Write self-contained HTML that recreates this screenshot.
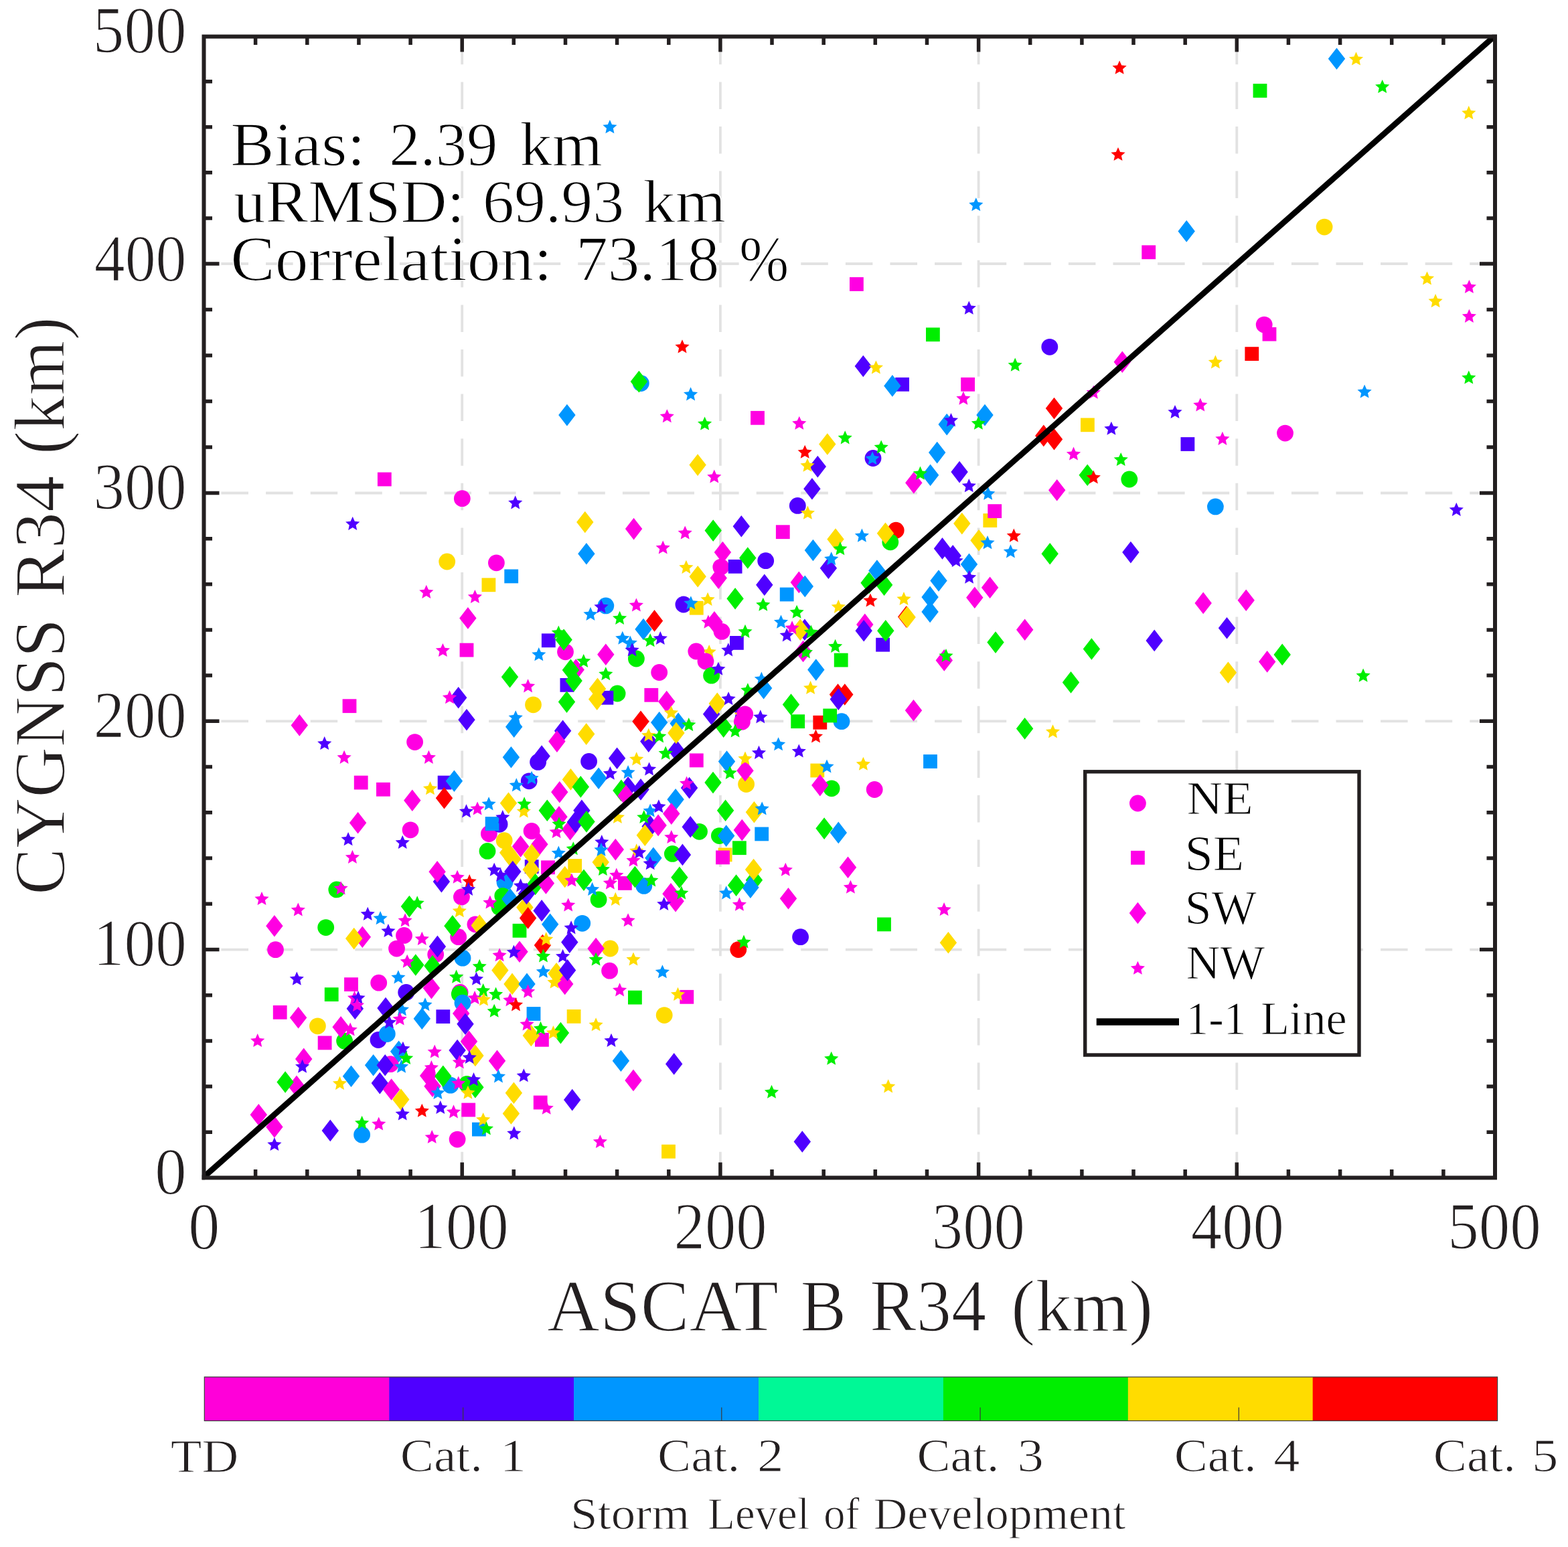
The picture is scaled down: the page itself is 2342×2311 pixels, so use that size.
<!DOCTYPE html>
<html lang="en"><head><meta charset="utf-8"><title>CYGNSS R34 vs ASCAT B R34</title>
<style>html,body{margin:0;padding:0;background:#fff}body{width:2342px;height:2311px;overflow:hidden}svg{display:block}text{font-family:"Liberation Serif",serif;stroke:#fff;stroke-width:1.5px;stroke-linejoin:round}</style>
</head><body>
<svg width="2342" height="2311" viewBox="0 0 2342 2311">
<rect width="2342" height="2311" fill="#fff"/>
<g stroke="#e2e2e2" stroke-width="3.8" fill="none" stroke-dasharray="40.5 26.1">
<path d="M330.5 1418.6H2233.0"/>
<path d="M690.2 55.8V1759.4"/>
<path d="M330.5 1077.3H2233.0"/>
<path d="M1075.9 55.8V1759.4"/>
<path d="M330.5 736.5H2233.0"/>
<path d="M1461.6 55.8V1759.4"/>
<path d="M330.5 394.0H2233.0"/>
<path d="M1847.3 55.8V1759.4"/>
</g>
<g><path d="M1059.2,963.0L1062.3,969.9L1069.8,970.7L1064.1,975.7L1065.7,983.1L1059.2,979.3L1052.7,983.1L1054.3,975.7L1048.6,970.7L1056.1,969.9Z" fill="#ffdc00"/>
<path d="M1103.9,1052.7L1107.0,1059.6L1114.5,1060.4L1108.8,1065.4L1110.4,1072.8L1103.9,1069.0L1097.4,1072.8L1099.0,1065.4L1093.3,1060.4L1100.8,1059.6Z" fill="#4f00ff"/>
<path d="M1107.0,1057.0L1110.1,1063.9L1117.6,1064.7L1111.9,1069.7L1113.5,1077.1L1107.0,1073.3L1100.5,1077.1L1102.1,1069.7L1096.4,1064.7L1103.9,1063.9Z" fill="#ffdc00"/>
<circle cx="1978.1" cy="339.1" r="12.4" fill="#ffdc00"/>
<circle cx="690.3" cy="744.7" r="12.4" fill="#ff00e2"/>
<circle cx="667.7" cy="839.0" r="12.4" fill="#ffdc00"/>
<circle cx="957.3" cy="572.6" r="12.4" fill="#0096ff"/>
<circle cx="741.4" cy="840.8" r="12.4" fill="#ff00e2"/>
<circle cx="1304.0" cy="684.5" r="12.4" fill="#4f00ff"/>
<circle cx="1191.3" cy="755.4" r="12.4" fill="#4f00ff"/>
<circle cx="1338.2" cy="792.2" r="12.4" fill="#ff0000"/>
<circle cx="1329.8" cy="809.8" r="12.4" fill="#00ee00"/>
<circle cx="1143.7" cy="837.7" r="12.4" fill="#4f00ff"/>
<circle cx="1567.8" cy="518.3" r="12.4" fill="#4f00ff"/>
<circle cx="1686.8" cy="716.0" r="12.4" fill="#00ee00"/>
<circle cx="1815.4" cy="756.9" r="12.4" fill="#0096ff"/>
<circle cx="1888.2" cy="485.1" r="12.4" fill="#ff00e2"/>
<circle cx="1919.5" cy="647.1" r="12.4" fill="#ff00e2"/>
<circle cx="619.6" cy="1108.6" r="12.4" fill="#ff00e2"/>
<circle cx="613.1" cy="1239.8" r="12.4" fill="#ff00e2"/>
<circle cx="904.8" cy="904.9" r="12.4" fill="#0096ff"/>
<circle cx="844.5" cy="973.8" r="12.4" fill="#ff00e2"/>
<circle cx="950.4" cy="984.0" r="12.4" fill="#00ee00"/>
<circle cx="796.5" cy="1052.8" r="12.4" fill="#ffdc00"/>
<circle cx="922.1" cy="1036.0" r="12.4" fill="#00ee00"/>
<circle cx="984.7" cy="1004.5" r="12.4" fill="#ff00e2"/>
<circle cx="879.6" cy="1137.5" r="12.4" fill="#4f00ff"/>
<circle cx="1076.8" cy="847.1" r="12.4" fill="#ff00e2"/>
<circle cx="1020.9" cy="903.0" r="12.4" fill="#4f00ff"/>
<circle cx="1078.1" cy="943.4" r="12.4" fill="#ff00e2"/>
<circle cx="1039.8" cy="973.0" r="12.4" fill="#ff00e2"/>
<circle cx="1054.0" cy="988.0" r="12.4" fill="#ff00e2"/>
<circle cx="1062.6" cy="1009.2" r="12.4" fill="#00ee00"/>
<circle cx="1112.7" cy="1066.8" r="12.4" fill="#ff00e2"/>
<circle cx="1108.4" cy="1078.3" r="12.4" fill="#ff00e2"/>
<circle cx="1257.0" cy="1077.7" r="12.4" fill="#0096ff"/>
<circle cx="803.6" cy="1138.4" r="12.4" fill="#4f00ff"/>
<circle cx="790.2" cy="1166.8" r="12.4" fill="#4f00ff"/>
<circle cx="730.4" cy="1245.5" r="12.4" fill="#ff00e2"/>
<circle cx="746.1" cy="1231.3" r="12.4" fill="#4f00ff"/>
<circle cx="794.1" cy="1241.5" r="12.4" fill="#ff00e2"/>
<circle cx="728.0" cy="1271.4" r="12.4" fill="#00ee00"/>
<circle cx="753.2" cy="1255.7" r="12.4" fill="#ffdc00"/>
<circle cx="754.0" cy="1317.9" r="12.4" fill="#0096ff"/>
<circle cx="689.4" cy="1339.9" r="12.4" fill="#ff00e2"/>
<circle cx="961.8" cy="1323.4" r="12.4" fill="#0096ff"/>
<circle cx="750.8" cy="1338.3" r="12.4" fill="#00ee00"/>
<circle cx="746.1" cy="1355.6" r="12.4" fill="#00ee00"/>
<circle cx="894.1" cy="1343.8" r="12.4" fill="#00ee00"/>
<circle cx="869.7" cy="1379.3" r="12.4" fill="#0096ff"/>
<circle cx="709.9" cy="1380.8" r="12.4" fill="#ff00e2"/>
<circle cx="684.7" cy="1399.7" r="12.4" fill="#ff00e2"/>
<circle cx="911.4" cy="1417.0" r="12.4" fill="#ffdc00"/>
<circle cx="691.0" cy="1431.2" r="12.4" fill="#0096ff"/>
<circle cx="1114.6" cy="1171.5" r="12.4" fill="#ffdc00"/>
<circle cx="1242.1" cy="1177.8" r="12.4" fill="#00ee00"/>
<circle cx="1044.5" cy="1242.3" r="12.4" fill="#00ee00"/>
<circle cx="1074.4" cy="1248.6" r="12.4" fill="#00ee00"/>
<circle cx="1004.4" cy="1275.4" r="12.4" fill="#00ee00"/>
<circle cx="1195.6" cy="1399.7" r="12.4" fill="#4f00ff"/>
<circle cx="1102.8" cy="1418.6" r="12.4" fill="#ff0000"/>
<circle cx="1306.2" cy="1179.5" r="12.4" fill="#ff00e2"/>
<circle cx="910.6" cy="1450.2" r="12.4" fill="#ff00e2"/>
<circle cx="687.1" cy="1482.5" r="12.4" fill="#ff00e2"/>
<circle cx="686.3" cy="1484.9" r="12.4" fill="#00ee00"/>
<circle cx="691.0" cy="1498.2" r="12.4" fill="#0096ff"/>
<circle cx="697.3" cy="1619.4" r="12.4" fill="#00ee00"/>
<circle cx="683.1" cy="1702.1" r="12.4" fill="#ff00e2"/>
<circle cx="992.2" cy="1516.6" r="12.4" fill="#ffdc00"/>
<circle cx="502.8" cy="1328.9" r="12.4" fill="#00ee00"/>
<circle cx="486.7" cy="1385.6" r="12.4" fill="#00ee00"/>
<circle cx="411.5" cy="1418.7" r="12.4" fill="#ff00e2"/>
<circle cx="603.5" cy="1397.4" r="12.4" fill="#ff00e2"/>
<circle cx="592.5" cy="1417.1" r="12.4" fill="#ff00e2"/>
<circle cx="650.7" cy="1425.7" r="12.4" fill="#ff00e2"/>
<circle cx="565.7" cy="1468.2" r="12.4" fill="#ff00e2"/>
<circle cx="606.7" cy="1482.4" r="12.4" fill="#4f00ff"/>
<circle cx="474.4" cy="1532.8" r="12.4" fill="#ffdc00"/>
<circle cx="514.6" cy="1555.1" r="12.4" fill="#00ee00"/>
<circle cx="565.0" cy="1553.5" r="12.4" fill="#4f00ff"/>
<circle cx="578.3" cy="1544.5" r="12.4" fill="#0096ff"/>
<circle cx="583.1" cy="1589.7" r="12.4" fill="#ff00e2"/>
<circle cx="672.8" cy="1621.2" r="12.4" fill="#0096ff"/>
<circle cx="540.6" cy="1695.2" r="12.4" fill="#0096ff"/>
<rect x="1269.0" y="414.1" width="20.8" height="20.8" fill="#ff00e2"/>
<rect x="1871.6" y="125.1" width="20.8" height="20.8" fill="#00ee00"/>
<rect x="1705.3" y="366.4" width="20.8" height="20.8" fill="#ff00e2"/>
<rect x="563.9" y="705.6" width="20.8" height="20.8" fill="#ff00e2"/>
<rect x="1383.0" y="489.4" width="20.8" height="20.8" fill="#00ee00"/>
<rect x="1337.2" y="563.9" width="20.8" height="20.8" fill="#4f00ff"/>
<rect x="1435.2" y="563.9" width="20.8" height="20.8" fill="#ff00e2"/>
<rect x="1121.1" y="613.9" width="20.8" height="20.8" fill="#ff00e2"/>
<rect x="1468.4" y="767.1" width="20.8" height="20.8" fill="#ffdc00"/>
<rect x="1475.3" y="753.2" width="20.8" height="20.8" fill="#ff00e2"/>
<rect x="1158.9" y="784.3" width="20.8" height="20.8" fill="#ff00e2"/>
<rect x="1614.0" y="624.4" width="20.8" height="20.8" fill="#ffdc00"/>
<rect x="1763.5" y="653.1" width="20.8" height="20.8" fill="#4f00ff"/>
<rect x="1859.4" y="518.2" width="20.8" height="20.8" fill="#ff0000"/>
<rect x="1885.6" y="488.8" width="20.8" height="20.8" fill="#ff00e2"/>
<rect x="686.6" y="960.7" width="20.8" height="20.8" fill="#ff00e2"/>
<rect x="511.6" y="1044.3" width="20.8" height="20.8" fill="#ff00e2"/>
<rect x="528.8" y="1158.7" width="20.8" height="20.8" fill="#ff00e2"/>
<rect x="562.0" y="1168.9" width="20.8" height="20.8" fill="#ff00e2"/>
<rect x="653.7" y="1158.7" width="20.8" height="20.8" fill="#4f00ff"/>
<rect x="753.3" y="850.5" width="20.8" height="20.8" fill="#0096ff"/>
<rect x="719.5" y="863.4" width="20.8" height="20.8" fill="#ffdc00"/>
<rect x="808.9" y="946.4" width="20.8" height="20.8" fill="#4f00ff"/>
<rect x="836.5" y="1013.0" width="20.8" height="20.8" fill="#4f00ff"/>
<rect x="895.5" y="1031.9" width="20.8" height="20.8" fill="#4f00ff"/>
<rect x="962.4" y="1027.9" width="20.8" height="20.8" fill="#ff00e2"/>
<rect x="1087.7" y="835.9" width="20.8" height="20.8" fill="#4f00ff"/>
<rect x="1164.8" y="877.6" width="20.8" height="20.8" fill="#0096ff"/>
<rect x="1029.9" y="897.8" width="20.8" height="20.8" fill="#ffdc00"/>
<rect x="1090.0" y="950.0" width="20.8" height="20.8" fill="#4f00ff"/>
<rect x="1245.8" y="975.7" width="20.8" height="20.8" fill="#00ee00"/>
<rect x="1181.3" y="1067.3" width="20.8" height="20.8" fill="#00ee00"/>
<rect x="1214.4" y="1068.9" width="20.8" height="20.8" fill="#ff0000"/>
<rect x="1229.3" y="1058.6" width="20.8" height="20.8" fill="#00ee00"/>
<rect x="1029.9" y="1125.5" width="20.8" height="20.8" fill="#ff00e2"/>
<rect x="1308.2" y="952.8" width="20.8" height="20.8" fill="#4f00ff"/>
<rect x="1379.1" y="1127.1" width="20.8" height="20.8" fill="#0096ff"/>
<rect x="724.7" y="1220.1" width="20.8" height="20.8" fill="#0096ff"/>
<rect x="808.1" y="1285.4" width="20.8" height="20.8" fill="#ff00e2"/>
<rect x="923.0" y="1309.0" width="20.8" height="20.8" fill="#ff00e2"/>
<rect x="765.6" y="1379.9" width="20.8" height="20.8" fill="#00ee00"/>
<rect x="1210.4" y="1140.6" width="20.8" height="20.8" fill="#ffdc00"/>
<rect x="1127.3" y="1235.5" width="20.8" height="20.8" fill="#0096ff"/>
<rect x="1094.0" y="1256.3" width="20.8" height="20.8" fill="#00ee00"/>
<rect x="1072.7" y="1266.5" width="20.8" height="20.8" fill="#ffdc00"/>
<rect x="1069.1" y="1270.5" width="20.8" height="20.8" fill="#ff00e2"/>
<rect x="1310.1" y="1370.5" width="20.8" height="20.8" fill="#00ee00"/>
<rect x="938.0" y="1479.7" width="20.8" height="20.8" fill="#00ee00"/>
<rect x="786.6" y="1504.1" width="20.8" height="20.8" fill="#0096ff"/>
<rect x="846.7" y="1508.0" width="20.8" height="20.8" fill="#ffdc00"/>
<rect x="799.0" y="1542.9" width="20.8" height="20.8" fill="#ff00e2"/>
<rect x="796.8" y="1636.6" width="20.8" height="20.8" fill="#ff00e2"/>
<rect x="689.3" y="1647.6" width="20.8" height="20.8" fill="#ff00e2"/>
<rect x="705.0" y="1676.7" width="20.8" height="20.8" fill="#0096ff"/>
<rect x="1015.4" y="1478.9" width="20.8" height="20.8" fill="#ff00e2"/>
<rect x="988.1" y="1709.8" width="20.8" height="20.8" fill="#ffdc00"/>
<rect x="514.1" y="1460.2" width="20.8" height="20.8" fill="#ff00e2"/>
<rect x="484.8" y="1475.2" width="20.8" height="20.8" fill="#00ee00"/>
<rect x="651.4" y="1508.2" width="20.8" height="20.8" fill="#4f00ff"/>
<rect x="407.8" y="1501.9" width="20.8" height="20.8" fill="#ff00e2"/>
<rect x="474.7" y="1547.5" width="20.8" height="20.8" fill="#ff00e2"/>
<rect x="783.8" y="1284.2" width="20.8" height="20.8" fill="#4f00ff"/>
<rect x="848.3" y="1283.1" width="20.8" height="20.8" fill="#ffdc00"/>
<path d="M1772.2 329.1l12.7 16.3l-12.7 16.3l-12.7 -16.3z" fill="#0096ff"/>
<path d="M1996.5 71.5l12.7 16.3l-12.7 16.3l-12.7 -16.3z" fill="#0096ff"/>
<path d="M954.4 553.8l12.7 16.3l-12.7 16.3l-12.7 -16.3z" fill="#00ee00"/>
<path d="M846.9 603.8l12.7 16.3l-12.7 16.3l-12.7 -16.3z" fill="#0096ff"/>
<path d="M1042.1 678.3l12.7 16.3l-12.7 16.3l-12.7 -16.3z" fill="#ffdc00"/>
<path d="M873.8 763.7l12.7 16.3l-12.7 16.3l-12.7 -16.3z" fill="#ffdc00"/>
<path d="M946.6 773.8l12.7 16.3l-12.7 16.3l-12.7 -16.3z" fill="#ff00e2"/>
<path d="M1065.2 776.3l12.7 16.3l-12.7 16.3l-12.7 -16.3z" fill="#00ee00"/>
<path d="M875.9 810.9l12.7 16.3l-12.7 16.3l-12.7 -16.3z" fill="#0096ff"/>
<path d="M1079.4 808.8l12.7 16.3l-12.7 16.3l-12.7 -16.3z" fill="#ff00e2"/>
<path d="M1289.3 530.7l12.7 16.3l-12.7 16.3l-12.7 -16.3z" fill="#4f00ff"/>
<path d="M1332.9 560.1l12.7 16.3l-12.7 16.3l-12.7 -16.3z" fill="#0096ff"/>
<path d="M1471.0 603.8l12.7 16.3l-12.7 16.3l-12.7 -16.3z" fill="#0096ff"/>
<path d="M1414.2 617.8l12.7 16.3l-12.7 16.3l-12.7 -16.3z" fill="#0096ff"/>
<path d="M1235.8 647.2l12.7 16.3l-12.7 16.3l-12.7 -16.3z" fill="#ffdc00"/>
<path d="M1221.3 680.8l12.7 16.3l-12.7 16.3l-12.7 -16.3z" fill="#4f00ff"/>
<path d="M1212.9 713.9l12.7 16.3l-12.7 16.3l-12.7 -16.3z" fill="#4f00ff"/>
<path d="M1399.7 659.8l12.7 16.3l-12.7 16.3l-12.7 -16.3z" fill="#0096ff"/>
<path d="M1433.1 688.8l12.7 16.3l-12.7 16.3l-12.7 -16.3z" fill="#4f00ff"/>
<path d="M1364.8 704.9l12.7 16.3l-12.7 16.3l-12.7 -16.3z" fill="#ff00e2"/>
<path d="M1389.6 693.4l12.7 16.3l-12.7 16.3l-12.7 -16.3z" fill="#0096ff"/>
<path d="M1436.8 765.8l12.7 16.3l-12.7 16.3l-12.7 -16.3z" fill="#ffdc00"/>
<path d="M1107.3 770.0l12.7 16.3l-12.7 16.3l-12.7 -16.3z" fill="#4f00ff"/>
<path d="M1322.5 780.5l12.7 16.3l-12.7 16.3l-12.7 -16.3z" fill="#ffdc00"/>
<path d="M1248.0 789.3l12.7 16.3l-12.7 16.3l-12.7 -16.3z" fill="#ffdc00"/>
<path d="M1214.4 805.7l12.7 16.3l-12.7 16.3l-12.7 -16.3z" fill="#0096ff"/>
<path d="M1116.8 817.2l12.7 16.3l-12.7 16.3l-12.7 -16.3z" fill="#00ee00"/>
<path d="M1462.0 791.0l12.7 16.3l-12.7 16.3l-12.7 -16.3z" fill="#ffdc00"/>
<path d="M1407.5 803.1l12.7 16.3l-12.7 16.3l-12.7 -16.3z" fill="#4f00ff"/>
<path d="M1423.2 814.0l12.7 16.3l-12.7 16.3l-12.7 -16.3z" fill="#4f00ff"/>
<path d="M1676.3 524.4l12.7 16.3l-12.7 16.3l-12.7 -16.3z" fill="#ff00e2"/>
<path d="M1574.5 593.7l12.7 16.3l-12.7 16.3l-12.7 -16.3z" fill="#ff0000"/>
<path d="M1558.8 634.6l12.7 16.3l-12.7 16.3l-12.7 -16.3z" fill="#ff0000"/>
<path d="M1574.5 639.9l12.7 16.3l-12.7 16.3l-12.7 -16.3z" fill="#ff0000"/>
<path d="M1624.2 693.4l12.7 16.3l-12.7 16.3l-12.7 -16.3z" fill="#00ee00"/>
<path d="M1578.7 716.0l12.7 16.3l-12.7 16.3l-12.7 -16.3z" fill="#ff00e2"/>
<path d="M1568.2 810.9l12.7 16.3l-12.7 16.3l-12.7 -16.3z" fill="#00ee00"/>
<path d="M1688.9 808.8l12.7 16.3l-12.7 16.3l-12.7 -16.3z" fill="#4f00ff"/>
<path d="M447.3 1067.1l12.7 16.3l-12.7 16.3l-12.7 -16.3z" fill="#ff00e2"/>
<path d="M678.4 1150.5l12.7 16.3l-12.7 16.3l-12.7 -16.3z" fill="#0096ff"/>
<path d="M663.5 1175.9l12.7 16.3l-12.7 16.3l-12.7 -16.3z" fill="#ff0000"/>
<path d="M615.8 1179.4l12.7 16.3l-12.7 16.3l-12.7 -16.3z" fill="#ff00e2"/>
<path d="M534.6 1213.0l12.7 16.3l-12.7 16.3l-12.7 -16.3z" fill="#ff00e2"/>
<path d="M698.9 907.1l12.7 16.3l-12.7 16.3l-12.7 -16.3z" fill="#ff00e2"/>
<path d="M684.7 1026.0l12.7 16.3l-12.7 16.3l-12.7 -16.3z" fill="#4f00ff"/>
<path d="M697.0 1059.0l12.7 16.3l-12.7 16.3l-12.7 -16.3z" fill="#4f00ff"/>
<path d="M977.5 911.1l12.7 16.3l-12.7 16.3l-12.7 -16.3z" fill="#ff0000"/>
<path d="M961.0 923.7l12.7 16.3l-12.7 16.3l-12.7 -16.3z" fill="#0096ff"/>
<path d="M860.2 984.3l12.7 16.3l-12.7 16.3l-12.7 -16.3z" fill="#ff00e2"/>
<path d="M842.1 939.4l12.7 16.3l-12.7 16.3l-12.7 -16.3z" fill="#00ee00"/>
<path d="M904.8 961.4l12.7 16.3l-12.7 16.3l-12.7 -16.3z" fill="#ff00e2"/>
<path d="M852.4 984.6l12.7 16.3l-12.7 16.3l-12.7 -16.3z" fill="#00ee00"/>
<path d="M857.1 1000.8l12.7 16.3l-12.7 16.3l-12.7 -16.3z" fill="#00ee00"/>
<path d="M761.5 995.0l12.7 16.3l-12.7 16.3l-12.7 -16.3z" fill="#00ee00"/>
<path d="M846.5 1032.3l12.7 16.3l-12.7 16.3l-12.7 -16.3z" fill="#00ee00"/>
<path d="M892.5 1012.6l12.7 16.3l-12.7 16.3l-12.7 -16.3z" fill="#ffdc00"/>
<path d="M891.7 1028.3l12.7 16.3l-12.7 16.3l-12.7 -16.3z" fill="#ffdc00"/>
<path d="M767.7 1069.4l12.7 16.3l-12.7 16.3l-12.7 -16.3z" fill="#0096ff"/>
<path d="M957.0 1061.4l12.7 16.3l-12.7 16.3l-12.7 -16.3z" fill="#ff0000"/>
<path d="M840.6 1075.5l12.7 16.3l-12.7 16.3l-12.7 -16.3z" fill="#4f00ff"/>
<path d="M831.9 1091.3l12.7 16.3l-12.7 16.3l-12.7 -16.3z" fill="#ff00e2"/>
<path d="M875.7 1080.3l12.7 16.3l-12.7 16.3l-12.7 -16.3z" fill="#ffdc00"/>
<path d="M968.8 1091.3l12.7 16.3l-12.7 16.3l-12.7 -16.3z" fill="#4f00ff"/>
<path d="M763.4 1114.9l12.7 16.3l-12.7 16.3l-12.7 -16.3z" fill="#0096ff"/>
<path d="M809.1 1113.3l12.7 16.3l-12.7 16.3l-12.7 -16.3z" fill="#4f00ff"/>
<path d="M921.6 1116.5l12.7 16.3l-12.7 16.3l-12.7 -16.3z" fill="#4f00ff"/>
<path d="M1042.2 844.9l12.7 16.3l-12.7 16.3l-12.7 -16.3z" fill="#ffdc00"/>
<path d="M1073.2 847.3l12.7 16.3l-12.7 16.3l-12.7 -16.3z" fill="#ff00e2"/>
<path d="M1237.4 832.4l12.7 16.3l-12.7 16.3l-12.7 -16.3z" fill="#4f00ff"/>
<path d="M1141.8 857.5l12.7 16.3l-12.7 16.3l-12.7 -16.3z" fill="#4f00ff"/>
<path d="M1193.3 853.6l12.7 16.3l-12.7 16.3l-12.7 -16.3z" fill="#ff00e2"/>
<path d="M1202.3 859.6l12.7 16.3l-12.7 16.3l-12.7 -16.3z" fill="#0096ff"/>
<path d="M1098.1 878.0l12.7 16.3l-12.7 16.3l-12.7 -16.3z" fill="#00ee00"/>
<path d="M1067.0 912.9l12.7 16.3l-12.7 16.3l-12.7 -16.3z" fill="#ff00e2"/>
<path d="M1201.9 924.4l12.7 16.3l-12.7 16.3l-12.7 -16.3z" fill="#4f00ff"/>
<path d="M1195.3 924.4l12.7 16.3l-12.7 16.3l-12.7 -16.3z" fill="#ffdc00"/>
<path d="M1199.6 956.7l12.7 16.3l-12.7 16.3l-12.7 -16.3z" fill="#ff00e2"/>
<path d="M1218.8 984.3l12.7 16.3l-12.7 16.3l-12.7 -16.3z" fill="#0096ff"/>
<path d="M1140.6 1011.8l12.7 16.3l-12.7 16.3l-12.7 -16.3z" fill="#0096ff"/>
<path d="M1251.5 1021.2l12.7 16.3l-12.7 16.3l-12.7 -16.3z" fill="#ff0000"/>
<path d="M1261.8 1021.2l12.7 16.3l-12.7 16.3l-12.7 -16.3z" fill="#ff0000"/>
<path d="M1252.3 1028.3l12.7 16.3l-12.7 16.3l-12.7 -16.3z" fill="#4f00ff"/>
<path d="M995.7 1031.8l12.7 16.3l-12.7 16.3l-12.7 -16.3z" fill="#ff00e2"/>
<path d="M1062.6 1050.4l12.7 16.3l-12.7 16.3l-12.7 -16.3z" fill="#4f00ff"/>
<path d="M1071.3 1034.6l12.7 16.3l-12.7 16.3l-12.7 -16.3z" fill="#ffdc00"/>
<path d="M1181.5 1036.2l12.7 16.3l-12.7 16.3l-12.7 -16.3z" fill="#00ee00"/>
<path d="M1085.5 1121.2l12.7 16.3l-12.7 16.3l-12.7 -16.3z" fill="#0096ff"/>
<path d="M1010.4 1105.0l12.7 16.3l-12.7 16.3l-12.7 -16.3z" fill="#4f00ff"/>
<path d="M1080.7 1069.3l12.7 16.3l-12.7 16.3l-12.7 -16.3z" fill="#00ee00"/>
<path d="M984.7 1063.0l12.7 16.3l-12.7 16.3l-12.7 -16.3z" fill="#0096ff"/>
<path d="M1013.1 1064.5l12.7 16.3l-12.7 16.3l-12.7 -16.3z" fill="#0096ff"/>
<path d="M1009.9 1078.7l12.7 16.3l-12.7 16.3l-12.7 -16.3z" fill="#ffdc00"/>
<path d="M1309.9 836.3l12.7 16.3l-12.7 16.3l-12.7 -16.3z" fill="#0096ff"/>
<path d="M1298.1 854.4l12.7 16.3l-12.7 16.3l-12.7 -16.3z" fill="#00ee00"/>
<path d="M1320.6 857.5l12.7 16.3l-12.7 16.3l-12.7 -16.3z" fill="#00ee00"/>
<path d="M1353.7 905.1l12.7 16.3l-12.7 16.3l-12.7 -16.3z" fill="#ff0000"/>
<path d="M1355.1 905.7l12.7 16.3l-12.7 16.3l-12.7 -16.3z" fill="#ffdc00"/>
<path d="M1402.0 851.2l12.7 16.3l-12.7 16.3l-12.7 -16.3z" fill="#0096ff"/>
<path d="M1389.1 875.6l12.7 16.3l-12.7 16.3l-12.7 -16.3z" fill="#0096ff"/>
<path d="M1389.1 897.7l12.7 16.3l-12.7 16.3l-12.7 -16.3z" fill="#0096ff"/>
<path d="M1478.6 861.5l12.7 16.3l-12.7 16.3l-12.7 -16.3z" fill="#ff00e2"/>
<path d="M1455.8 876.4l12.7 16.3l-12.7 16.3l-12.7 -16.3z" fill="#ff00e2"/>
<path d="M1530.7 924.4l12.7 16.3l-12.7 16.3l-12.7 -16.3z" fill="#ff00e2"/>
<path d="M1487.0 943.3l12.7 16.3l-12.7 16.3l-12.7 -16.3z" fill="#00ee00"/>
<path d="M1291.8 916.6l12.7 16.3l-12.7 16.3l-12.7 -16.3z" fill="#ff00e2"/>
<path d="M1290.2 926.0l12.7 16.3l-12.7 16.3l-12.7 -16.3z" fill="#4f00ff"/>
<path d="M1322.8 926.0l12.7 16.3l-12.7 16.3l-12.7 -16.3z" fill="#00ee00"/>
<path d="M1410.3 970.1l12.7 16.3l-12.7 16.3l-12.7 -16.3z" fill="#ff00e2"/>
<path d="M1364.5 1044.9l12.7 16.3l-12.7 16.3l-12.7 -16.3z" fill="#ff00e2"/>
<path d="M1530.6 1072.1l12.7 16.3l-12.7 16.3l-12.7 -16.3z" fill="#00ee00"/>
<path d="M1630.4 953.2l12.7 16.3l-12.7 16.3l-12.7 -16.3z" fill="#00ee00"/>
<path d="M1599.5 1003.1l12.7 16.3l-12.7 16.3l-12.7 -16.3z" fill="#00ee00"/>
<path d="M1724.2 940.6l12.7 16.3l-12.7 16.3l-12.7 -16.3z" fill="#4f00ff"/>
<path d="M1797.2 884.6l12.7 16.3l-12.7 16.3l-12.7 -16.3z" fill="#ff00e2"/>
<path d="M1861.2 880.4l12.7 16.3l-12.7 16.3l-12.7 -16.3z" fill="#ff00e2"/>
<path d="M1832.5 921.9l12.7 16.3l-12.7 16.3l-12.7 -16.3z" fill="#4f00ff"/>
<path d="M1834.4 988.4l12.7 16.3l-12.7 16.3l-12.7 -16.3z" fill="#ffdc00"/>
<path d="M1892.7 972.1l12.7 16.3l-12.7 16.3l-12.7 -16.3z" fill="#ff00e2"/>
<path d="M1915.2 961.6l12.7 16.3l-12.7 16.3l-12.7 -16.3z" fill="#00ee00"/>
<path d="M852.4 1148.1l12.7 16.3l-12.7 16.3l-12.7 -16.3z" fill="#ffdc00"/>
<path d="M835.8 1167.0l12.7 16.3l-12.7 16.3l-12.7 -16.3z" fill="#ff00e2"/>
<path d="M867.3 1159.1l12.7 16.3l-12.7 16.3l-12.7 -16.3z" fill="#00ee00"/>
<path d="M894.1 1146.5l12.7 16.3l-12.7 16.3l-12.7 -16.3z" fill="#0096ff"/>
<path d="M938.1 1159.9l12.7 16.3l-12.7 16.3l-12.7 -16.3z" fill="#4f00ff"/>
<path d="M927.9 1164.6l12.7 16.3l-12.7 16.3l-12.7 -16.3z" fill="#00ee00"/>
<path d="M935.0 1172.5l12.7 16.3l-12.7 16.3l-12.7 -16.3z" fill="#ff00e2"/>
<path d="M957.0 1163.1l12.7 16.3l-12.7 16.3l-12.7 -16.3z" fill="#4f00ff"/>
<path d="M759.5 1183.5l12.7 16.3l-12.7 16.3l-12.7 -16.3z" fill="#ffdc00"/>
<path d="M817.3 1194.5l12.7 16.3l-12.7 16.3l-12.7 -16.3z" fill="#00ee00"/>
<path d="M851.6 1222.9l12.7 16.3l-12.7 16.3l-12.7 -16.3z" fill="#ff00e2"/>
<path d="M835.0 1204.0l12.7 16.3l-12.7 16.3l-12.7 -16.3z" fill="#ff00e2"/>
<path d="M868.9 1194.5l12.7 16.3l-12.7 16.3l-12.7 -16.3z" fill="#4f00ff"/>
<path d="M859.4 1211.8l12.7 16.3l-12.7 16.3l-12.7 -16.3z" fill="#4f00ff"/>
<path d="M876.0 1211.1l12.7 16.3l-12.7 16.3l-12.7 -16.3z" fill="#00ee00"/>
<path d="M805.9 1244.9l12.7 16.3l-12.7 16.3l-12.7 -16.3z" fill="#ff00e2"/>
<path d="M971.2 1218.1l12.7 16.3l-12.7 16.3l-12.7 -16.3z" fill="#4f00ff"/>
<path d="M963.3 1231.5l12.7 16.3l-12.7 16.3l-12.7 -16.3z" fill="#ffdc00"/>
<path d="M758.7 1257.5l12.7 16.3l-12.7 16.3l-12.7 -16.3z" fill="#ffdc00"/>
<path d="M765.8 1266.9l12.7 16.3l-12.7 16.3l-12.7 -16.3z" fill="#ffdc00"/>
<path d="M777.6 1248.1l12.7 16.3l-12.7 16.3l-12.7 -16.3z" fill="#ff00e2"/>
<path d="M794.1 1260.6l12.7 16.3l-12.7 16.3l-12.7 -16.3z" fill="#ffdc00"/>
<path d="M919.3 1252.8l12.7 16.3l-12.7 16.3l-12.7 -16.3z" fill="#ff00e2"/>
<path d="M975.9 1265.4l12.7 16.3l-12.7 16.3l-12.7 -16.3z" fill="#0096ff"/>
<path d="M765.8 1285.8l12.7 16.3l-12.7 16.3l-12.7 -16.3z" fill="#4f00ff"/>
<path d="M793.3 1282.7l12.7 16.3l-12.7 16.3l-12.7 -16.3z" fill="#ffdc00"/>
<path d="M843.7 1293.7l12.7 16.3l-12.7 16.3l-12.7 -16.3z" fill="#ffdc00"/>
<path d="M897.2 1271.7l12.7 16.3l-12.7 16.3l-12.7 -16.3z" fill="#ffdc00"/>
<path d="M872.0 1298.4l12.7 16.3l-12.7 16.3l-12.7 -16.3z" fill="#00ee00"/>
<path d="M948.4 1293.7l12.7 16.3l-12.7 16.3l-12.7 -16.3z" fill="#00ee00"/>
<path d="M799.6 1304.7l12.7 16.3l-12.7 16.3l-12.7 -16.3z" fill="#00ee00"/>
<path d="M815.4 1303.1l12.7 16.3l-12.7 16.3l-12.7 -16.3z" fill="#ff00e2"/>
<path d="M761.9 1326.8l12.7 16.3l-12.7 16.3l-12.7 -16.3z" fill="#0096ff"/>
<path d="M783.9 1339.3l12.7 16.3l-12.7 16.3l-12.7 -16.3z" fill="#ffdc00"/>
<path d="M788.6 1355.1l12.7 16.3l-12.7 16.3l-12.7 -16.3z" fill="#ff0000"/>
<path d="M809.1 1344.1l12.7 16.3l-12.7 16.3l-12.7 -16.3z" fill="#4f00ff"/>
<path d="M821.7 1364.5l12.7 16.3l-12.7 16.3l-12.7 -16.3z" fill="#0096ff"/>
<path d="M716.2 1366.1l12.7 16.3l-12.7 16.3l-12.7 -16.3z" fill="#ffdc00"/>
<path d="M850.8 1391.3l12.7 16.3l-12.7 16.3l-12.7 -16.3z" fill="#4f00ff"/>
<path d="M890.1 1400.7l12.7 16.3l-12.7 16.3l-12.7 -16.3z" fill="#ff00e2"/>
<path d="M776.0 1405.5l12.7 16.3l-12.7 16.3l-12.7 -16.3z" fill="#ff00e2"/>
<path d="M1113.0 1134.9l12.7 16.3l-12.7 16.3l-12.7 -16.3z" fill="#ff00e2"/>
<path d="M1224.8 1156.8l12.7 16.3l-12.7 16.3l-12.7 -16.3z" fill="#ff00e2"/>
<path d="M1065.0 1152.8l12.7 16.3l-12.7 16.3l-12.7 -16.3z" fill="#00ee00"/>
<path d="M1029.6 1160.7l12.7 16.3l-12.7 16.3l-12.7 -16.3z" fill="#4f00ff"/>
<path d="M1009.1 1178.0l12.7 16.3l-12.7 16.3l-12.7 -16.3z" fill="#0096ff"/>
<path d="M1002.8 1199.3l12.7 16.3l-12.7 16.3l-12.7 -16.3z" fill="#ff00e2"/>
<path d="M983.1 1216.6l12.7 16.3l-12.7 16.3l-12.7 -16.3z" fill="#ff00e2"/>
<path d="M1031.2 1218.9l12.7 16.3l-12.7 16.3l-12.7 -16.3z" fill="#4f00ff"/>
<path d="M1083.6 1194.5l12.7 16.3l-12.7 16.3l-12.7 -16.3z" fill="#00ee00"/>
<path d="M1126.4 1196.9l12.7 16.3l-12.7 16.3l-12.7 -16.3z" fill="#ffdc00"/>
<path d="M1108.3 1223.7l12.7 16.3l-12.7 16.3l-12.7 -16.3z" fill="#ff00e2"/>
<path d="M1084.7 1232.3l12.7 16.3l-12.7 16.3l-12.7 -16.3z" fill="#0096ff"/>
<path d="M1019.4 1260.6l12.7 16.3l-12.7 16.3l-12.7 -16.3z" fill="#4f00ff"/>
<path d="M1231.1 1221.3l12.7 16.3l-12.7 16.3l-12.7 -16.3z" fill="#00ee00"/>
<path d="M1252.3 1227.6l12.7 16.3l-12.7 16.3l-12.7 -16.3z" fill="#0096ff"/>
<path d="M1266.5 1279.5l12.7 16.3l-12.7 16.3l-12.7 -16.3z" fill="#ff00e2"/>
<path d="M1126.4 1298.4l12.7 16.3l-12.7 16.3l-12.7 -16.3z" fill="#00ee00"/>
<path d="M1125.6 1282.7l12.7 16.3l-12.7 16.3l-12.7 -16.3z" fill="#ffdc00"/>
<path d="M1120.9 1309.4l12.7 16.3l-12.7 16.3l-12.7 -16.3z" fill="#0096ff"/>
<path d="M1099.6 1306.3l12.7 16.3l-12.7 16.3l-12.7 -16.3z" fill="#00ee00"/>
<path d="M1177.5 1326.0l12.7 16.3l-12.7 16.3l-12.7 -16.3z" fill="#ff00e2"/>
<path d="M1014.9 1294.5l12.7 16.3l-12.7 16.3l-12.7 -16.3z" fill="#00ee00"/>
<path d="M1002.0 1318.9l12.7 16.3l-12.7 16.3l-12.7 -16.3z" fill="#ff00e2"/>
<path d="M1009.1 1329.9l12.7 16.3l-12.7 16.3l-12.7 -16.3z" fill="#ff00e2"/>
<path d="M1416.4 1391.9l12.7 16.3l-12.7 16.3l-12.7 -16.3z" fill="#ffdc00"/>
<path d="M746.9 1433.1l12.7 16.3l-12.7 16.3l-12.7 -16.3z" fill="#ffdc00"/>
<path d="M831.1 1437.9l12.7 16.3l-12.7 16.3l-12.7 -16.3z" fill="#ffdc00"/>
<path d="M843.7 1453.6l12.7 16.3l-12.7 16.3l-12.7 -16.3z" fill="#ff00e2"/>
<path d="M847.6 1433.1l12.7 16.3l-12.7 16.3l-12.7 -16.3z" fill="#4f00ff"/>
<path d="M765.0 1453.6l12.7 16.3l-12.7 16.3l-12.7 -16.3z" fill="#ffdc00"/>
<path d="M787.0 1453.6l12.7 16.3l-12.7 16.3l-12.7 -16.3z" fill="#0096ff"/>
<path d="M688.7 1497.7l12.7 16.3l-12.7 16.3l-12.7 -16.3z" fill="#ff00e2"/>
<path d="M695.0 1513.4l12.7 16.3l-12.7 16.3l-12.7 -16.3z" fill="#4f00ff"/>
<path d="M793.3 1530.7l12.7 16.3l-12.7 16.3l-12.7 -16.3z" fill="#ffdc00"/>
<path d="M837.4 1526.8l12.7 16.3l-12.7 16.3l-12.7 -16.3z" fill="#00ee00"/>
<path d="M700.5 1539.4l12.7 16.3l-12.7 16.3l-12.7 -16.3z" fill="#ff00e2"/>
<path d="M683.1 1552.8l12.7 16.3l-12.7 16.3l-12.7 -16.3z" fill="#4f00ff"/>
<path d="M709.9 1560.6l12.7 16.3l-12.7 16.3l-12.7 -16.3z" fill="#ffdc00"/>
<path d="M742.5 1568.5l12.7 16.3l-12.7 16.3l-12.7 -16.3z" fill="#ff00e2"/>
<path d="M927.4 1568.5l12.7 16.3l-12.7 16.3l-12.7 -16.3z" fill="#0096ff"/>
<path d="M946.0 1597.6l12.7 16.3l-12.7 16.3l-12.7 -16.3z" fill="#ff00e2"/>
<path d="M709.9 1607.9l12.7 16.3l-12.7 16.3l-12.7 -16.3z" fill="#00ee00"/>
<path d="M767.4 1616.5l12.7 16.3l-12.7 16.3l-12.7 -16.3z" fill="#ffdc00"/>
<path d="M763.4 1647.2l12.7 16.3l-12.7 16.3l-12.7 -16.3z" fill="#ffdc00"/>
<path d="M854.7 1626.8l12.7 16.3l-12.7 16.3l-12.7 -16.3z" fill="#4f00ff"/>
<path d="M1006.7 1573.1l12.7 16.3l-12.7 16.3l-12.7 -16.3z" fill="#4f00ff"/>
<path d="M1198.3 1689.2l12.7 16.3l-12.7 16.3l-12.7 -16.3z" fill="#4f00ff"/>
<path d="M659.4 1300.8l12.7 16.3l-12.7 16.3l-12.7 -16.3z" fill="#4f00ff"/>
<path d="M653.1 1285.9l12.7 16.3l-12.7 16.3l-12.7 -16.3z" fill="#ff00e2"/>
<path d="M409.9 1366.9l12.7 16.3l-12.7 16.3l-12.7 -16.3z" fill="#ff00e2"/>
<path d="M611.4 1337.8l12.7 16.3l-12.7 16.3l-12.7 -16.3z" fill="#00ee00"/>
<path d="M541.3 1383.5l12.7 16.3l-12.7 16.3l-12.7 -16.3z" fill="#ff00e2"/>
<path d="M528.7 1385.8l12.7 16.3l-12.7 16.3l-12.7 -16.3z" fill="#ffdc00"/>
<path d="M653.4 1397.6l12.7 16.3l-12.7 16.3l-12.7 -16.3z" fill="#4f00ff"/>
<path d="M675.9 1366.9l12.7 16.3l-12.7 16.3l-12.7 -16.3z" fill="#00ee00"/>
<path d="M620.8 1425.2l12.7 16.3l-12.7 16.3l-12.7 -16.3z" fill="#00ee00"/>
<path d="M646.0 1426.8l12.7 16.3l-12.7 16.3l-12.7 -16.3z" fill="#00ee00"/>
<path d="M644.4 1459.8l12.7 16.3l-12.7 16.3l-12.7 -16.3z" fill="#ff00e2"/>
<path d="M530.3 1490.5l12.7 16.3l-12.7 16.3l-12.7 -16.3z" fill="#4f00ff"/>
<path d="M576.0 1489.7l12.7 16.3l-12.7 16.3l-12.7 -16.3z" fill="#4f00ff"/>
<path d="M630.3 1505.5l12.7 16.3l-12.7 16.3l-12.7 -16.3z" fill="#0096ff"/>
<path d="M445.6 1503.9l12.7 16.3l-12.7 16.3l-12.7 -16.3z" fill="#ff00e2"/>
<path d="M509.1 1518.0l12.7 16.3l-12.7 16.3l-12.7 -16.3z" fill="#ff00e2"/>
<path d="M453.7 1565.6l12.7 16.3l-12.7 16.3l-12.7 -16.3z" fill="#ff00e2"/>
<path d="M443.0 1606.5l12.7 16.3l-12.7 16.3l-12.7 -16.3z" fill="#ff00e2"/>
<path d="M426.1 1600.2l12.7 16.3l-12.7 16.3l-12.7 -16.3z" fill="#00ee00"/>
<path d="M524.5 1591.5l12.7 16.3l-12.7 16.3l-12.7 -16.3z" fill="#0096ff"/>
<path d="M557.6 1575.0l12.7 16.3l-12.7 16.3l-12.7 -16.3z" fill="#0096ff"/>
<path d="M575.2 1575.0l12.7 16.3l-12.7 16.3l-12.7 -16.3z" fill="#4f00ff"/>
<path d="M595.6 1554.5l12.7 16.3l-12.7 16.3l-12.7 -16.3z" fill="#0096ff"/>
<path d="M567.3 1601.8l12.7 16.3l-12.7 16.3l-12.7 -16.3z" fill="#4f00ff"/>
<path d="M584.6 1611.2l12.7 16.3l-12.7 16.3l-12.7 -16.3z" fill="#ff00e2"/>
<path d="M598.8 1626.2l12.7 16.3l-12.7 16.3l-12.7 -16.3z" fill="#ffdc00"/>
<path d="M639.7 1590.7l12.7 16.3l-12.7 16.3l-12.7 -16.3z" fill="#ff00e2"/>
<path d="M646.0 1606.5l12.7 16.3l-12.7 16.3l-12.7 -16.3z" fill="#ff00e2"/>
<path d="M661.8 1591.5l12.7 16.3l-12.7 16.3l-12.7 -16.3z" fill="#00ee00"/>
<path d="M386.3 1649.0l12.7 16.3l-12.7 16.3l-12.7 -16.3z" fill="#ff00e2"/>
<path d="M409.9 1667.1l12.7 16.3l-12.7 16.3l-12.7 -16.3z" fill="#ff00e2"/>
<path d="M493.3 1672.6l12.7 16.3l-12.7 16.3l-12.7 -16.3z" fill="#4f00ff"/>
<path d="M1447.5 826.6l12.7 16.3l-12.7 16.3l-12.7 -16.3z" fill="#0096ff"/>
<path d="M810.4 1395.8l12.7 16.3l-12.7 16.3l-12.7 -16.3z" fill="#ff0000"/>
<path d="M786.5 1318.7l12.7 16.3l-12.7 16.3l-12.7 -16.3z" fill="#4f00ff"/>
<path d="M910.9,179.1L914.0,186.0L921.5,186.8L915.8,191.8L917.4,199.2L910.9,195.4L904.4,199.2L906.0,191.8L900.3,186.8L907.8,186.0Z" fill="#0096ff"/>
<path d="M1457.8,295.2L1460.9,302.1L1468.4,302.9L1462.7,307.9L1464.3,315.3L1457.8,311.5L1451.3,315.3L1452.9,307.9L1447.2,302.9L1454.7,302.1Z" fill="#0096ff"/>
<path d="M1672.1,90.6L1675.2,97.5L1682.7,98.3L1677.0,103.3L1678.6,110.7L1672.1,106.9L1665.6,110.7L1667.2,103.3L1661.5,98.3L1669.0,97.5Z" fill="#ff0000"/>
<path d="M1670.0,220.0L1673.1,226.9L1680.6,227.7L1674.9,232.7L1676.5,240.1L1670.0,236.3L1663.5,240.1L1665.1,232.7L1659.4,227.7L1666.9,226.9Z" fill="#ff0000"/>
<path d="M2025.5,77.5L2028.6,84.4L2036.1,85.2L2030.4,90.2L2032.0,97.6L2025.5,93.8L2019.0,97.6L2020.6,90.2L2014.9,85.2L2022.4,84.4Z" fill="#ffdc00"/>
<path d="M2064.7,118.9L2067.8,125.8L2075.3,126.6L2069.6,131.6L2071.2,139.0L2064.7,135.2L2058.2,139.0L2059.8,131.6L2054.1,126.6L2061.6,125.8Z" fill="#00ee00"/>
<path d="M2193.8,158.1L2196.9,165.0L2204.4,165.8L2198.7,170.8L2200.3,178.2L2193.8,174.4L2187.3,178.2L2188.9,170.8L2183.2,165.8L2190.7,165.0Z" fill="#ffdc00"/>
<path d="M2131.5,405.4L2134.6,412.3L2142.1,413.1L2136.4,418.1L2138.0,425.5L2131.5,421.7L2125.0,425.5L2126.6,418.1L2120.9,413.1L2128.4,412.3Z" fill="#ffdc00"/>
<path d="M2194.4,417.9L2197.5,424.8L2205.0,425.6L2199.3,430.6L2200.9,438.0L2194.4,434.2L2187.9,438.0L2189.5,430.6L2183.8,425.6L2191.3,424.8Z" fill="#ff00e2"/>
<path d="M526.7,771.8L529.8,778.7L537.3,779.5L531.6,784.5L533.2,791.9L526.7,788.1L520.2,791.9L521.8,784.5L516.1,779.5L523.6,778.7Z" fill="#4f00ff"/>
<path d="M1019.0,507.3L1022.1,514.2L1029.6,515.0L1023.9,520.0L1025.5,527.4L1019.0,523.6L1012.5,527.4L1014.1,520.0L1008.4,515.0L1015.9,514.2Z" fill="#ff0000"/>
<path d="M1031.6,578.3L1034.7,585.2L1042.2,586.0L1036.5,591.0L1038.1,598.4L1031.6,594.6L1025.1,598.4L1026.7,591.0L1021.0,586.0L1028.5,585.2Z" fill="#0096ff"/>
<path d="M996.3,611.2L999.4,618.1L1006.9,618.9L1001.2,623.9L1002.8,631.3L996.3,627.5L989.8,631.3L991.4,623.9L985.7,618.9L993.2,618.1Z" fill="#ff00e2"/>
<path d="M1052.6,622.4L1055.7,629.3L1063.2,630.1L1057.5,635.1L1059.1,642.5L1052.6,638.7L1046.1,642.5L1047.7,635.1L1042.0,630.1L1049.5,629.3Z" fill="#00ee00"/>
<path d="M1066.8,701.5L1069.9,708.4L1077.4,709.2L1071.7,714.2L1073.3,721.6L1066.8,717.8L1060.3,721.6L1061.9,714.2L1056.2,709.2L1063.7,708.4Z" fill="#ff00e2"/>
<path d="M769.7,740.3L772.8,747.2L780.3,748.0L774.6,753.0L776.2,760.4L769.7,756.6L763.2,760.4L764.8,753.0L759.1,748.0L766.6,747.2Z" fill="#4f00ff"/>
<path d="M1023.2,785.4L1026.3,792.3L1033.8,793.1L1028.1,798.1L1029.7,805.5L1023.2,801.7L1016.7,805.5L1018.3,798.1L1012.6,793.1L1020.1,792.3Z" fill="#ff00e2"/>
<path d="M990.2,807.5L993.3,814.4L1000.8,815.2L995.1,820.2L996.7,827.6L990.2,823.8L983.7,827.6L985.3,820.2L979.6,815.2L987.1,814.4Z" fill="#ff00e2"/>
<path d="M1447.3,449.6L1450.4,456.5L1457.9,457.3L1452.2,462.3L1453.8,469.7L1447.3,465.9L1440.8,469.7L1442.4,462.3L1436.7,457.3L1444.2,456.5Z" fill="#4f00ff"/>
<path d="M1308.4,538.4L1311.5,545.3L1319.0,546.1L1313.3,551.1L1314.9,558.5L1308.4,554.7L1301.9,558.5L1303.5,551.1L1297.8,546.1L1305.3,545.3Z" fill="#ffdc00"/>
<path d="M1438.9,584.6L1442.0,591.5L1449.5,592.3L1443.8,597.3L1445.4,604.7L1438.9,600.9L1432.4,604.7L1434.0,597.3L1428.3,592.3L1435.8,591.5Z" fill="#ff00e2"/>
<path d="M1193.8,621.7L1196.9,628.6L1204.4,629.4L1198.7,634.4L1200.3,641.8L1193.8,638.0L1187.3,641.8L1188.9,634.4L1183.2,629.4L1190.7,628.6Z" fill="#ff00e2"/>
<path d="M1461.4,621.7L1464.5,628.6L1472.0,629.4L1466.3,634.4L1467.9,641.8L1461.4,638.0L1454.9,641.8L1456.5,634.4L1450.8,629.4L1458.3,628.6Z" fill="#00ee00"/>
<path d="M1420.5,617.1L1423.6,624.0L1431.1,624.8L1425.4,629.8L1427.0,637.2L1420.5,633.4L1414.0,637.2L1415.6,629.8L1409.9,624.8L1417.4,624.0Z" fill="#4f00ff"/>
<path d="M1262.2,643.3L1265.3,650.2L1272.8,651.0L1267.1,656.0L1268.7,663.4L1262.2,659.6L1255.7,663.4L1257.3,656.0L1251.6,651.0L1259.1,650.2Z" fill="#00ee00"/>
<path d="M1316.2,657.4L1319.3,664.3L1326.8,665.1L1321.1,670.1L1322.7,677.5L1316.2,673.7L1309.7,677.5L1311.3,670.1L1305.6,665.1L1313.1,664.3Z" fill="#00ee00"/>
<path d="M1303.1,674.2L1306.2,681.1L1313.7,681.9L1308.0,686.9L1309.6,694.3L1303.1,690.5L1296.6,694.3L1298.2,686.9L1292.5,681.9L1300.0,681.1Z" fill="#0096ff"/>
<path d="M1202.2,664.7L1205.3,671.6L1212.8,672.4L1207.1,677.4L1208.7,684.8L1202.2,681.0L1195.7,684.8L1197.3,677.4L1191.6,672.4L1199.1,671.6Z" fill="#ff0000"/>
<path d="M1206.0,684.7L1209.1,691.6L1216.6,692.4L1210.9,697.4L1212.5,704.8L1206.0,701.0L1199.5,704.8L1201.1,697.4L1195.4,692.4L1202.9,691.6Z" fill="#ffdc00"/>
<path d="M1206.4,755.6L1209.5,762.5L1217.0,763.3L1211.3,768.3L1212.9,775.7L1206.4,771.9L1199.9,775.7L1201.5,768.3L1195.8,763.3L1203.3,762.5Z" fill="#ffdc00"/>
<path d="M1374.5,696.6L1377.6,703.5L1385.1,704.3L1379.4,709.3L1381.0,716.7L1374.5,712.9L1368.0,716.7L1369.6,709.3L1363.9,704.3L1371.4,703.5Z" fill="#00ee00"/>
<path d="M1447.3,715.1L1450.4,722.0L1457.9,722.8L1452.2,727.8L1453.8,735.2L1447.3,731.4L1440.8,735.2L1442.4,727.8L1436.7,722.8L1444.2,722.0Z" fill="#4f00ff"/>
<path d="M1475.7,726.7L1478.8,733.6L1486.3,734.4L1480.6,739.4L1482.2,746.8L1475.7,743.0L1469.2,746.8L1470.8,739.4L1465.1,734.4L1472.6,733.6Z" fill="#0096ff"/>
<path d="M1287.4,789.6L1290.5,796.5L1298.0,797.3L1292.3,802.3L1293.9,809.7L1287.4,805.9L1280.9,809.7L1282.5,802.3L1276.8,797.3L1284.3,796.5Z" fill="#0096ff"/>
<path d="M1254.9,809.1L1258.0,816.0L1265.5,816.8L1259.8,821.8L1261.4,829.2L1254.9,825.4L1248.4,829.2L1250.0,821.8L1244.3,816.8L1251.8,816.0Z" fill="#00ee00"/>
<path d="M1241.7,824.2L1244.8,831.1L1252.3,831.9L1246.6,836.9L1248.2,844.3L1241.7,840.5L1235.2,844.3L1236.8,836.9L1231.1,831.9L1238.6,831.1Z" fill="#0096ff"/>
<path d="M1475.0,800.1L1478.1,807.0L1485.6,807.8L1479.9,812.8L1481.5,820.2L1475.0,816.4L1468.5,820.2L1470.1,812.8L1464.4,807.8L1471.9,807.0Z" fill="#0096ff"/>
<path d="M1516.2,534.6L1519.3,541.5L1526.8,542.3L1521.1,547.3L1522.7,554.7L1516.2,550.9L1509.7,554.7L1511.3,547.3L1505.6,542.3L1513.1,541.5Z" fill="#00ee00"/>
<path d="M1633.3,575.6L1636.4,582.5L1643.9,583.3L1638.2,588.3L1639.8,595.7L1633.3,591.9L1626.8,595.7L1628.4,588.3L1622.7,583.3L1630.2,582.5Z" fill="#ff00e2"/>
<path d="M1659.9,629.7L1663.0,636.6L1670.5,637.4L1664.8,642.4L1666.4,649.8L1659.9,646.0L1653.4,649.8L1655.0,642.4L1649.3,637.4L1656.8,636.6Z" fill="#4f00ff"/>
<path d="M1755.0,604.9L1758.1,611.8L1765.6,612.6L1759.9,617.6L1761.5,625.0L1755.0,621.2L1748.5,625.0L1750.1,617.6L1744.4,612.6L1751.9,611.8Z" fill="#4f00ff"/>
<path d="M1792.8,594.4L1795.9,601.3L1803.4,602.1L1797.7,607.1L1799.3,614.5L1792.8,610.7L1786.3,614.5L1787.9,607.1L1782.2,602.1L1789.7,601.3Z" fill="#ff00e2"/>
<path d="M1825.9,644.8L1829.0,651.7L1836.5,652.5L1830.8,657.5L1832.4,664.9L1825.9,661.1L1819.4,664.9L1821.0,657.5L1815.3,652.5L1822.8,651.7Z" fill="#ff00e2"/>
<path d="M1603.5,667.5L1606.6,674.4L1614.1,675.2L1608.4,680.2L1610.0,687.6L1603.5,683.8L1597.0,687.6L1598.6,680.2L1592.9,675.2L1600.4,674.4Z" fill="#ff00e2"/>
<path d="M1674.2,675.9L1677.3,682.8L1684.8,683.6L1679.1,688.6L1680.7,696.0L1674.2,692.2L1667.7,696.0L1669.3,688.6L1663.6,683.6L1671.1,682.8Z" fill="#00ee00"/>
<path d="M1633.3,702.5L1636.4,709.4L1643.9,710.2L1638.2,715.2L1639.8,722.6L1633.3,718.8L1626.8,722.6L1628.4,715.2L1622.7,710.2L1630.2,709.4Z" fill="#ff0000"/>
<path d="M1815.4,530.4L1818.5,537.3L1826.0,538.1L1820.3,543.1L1821.9,550.5L1815.4,546.7L1808.9,550.5L1810.5,543.1L1804.8,538.1L1812.3,537.3Z" fill="#ffdc00"/>
<path d="M1514.3,789.6L1517.4,796.5L1524.9,797.3L1519.2,802.3L1520.8,809.7L1514.3,805.9L1507.8,809.7L1509.4,802.3L1503.7,797.3L1511.2,796.5Z" fill="#ff0000"/>
<path d="M1509.4,813.3L1512.5,820.2L1520.0,821.0L1514.3,826.0L1515.9,833.4L1509.4,829.6L1502.9,833.4L1504.5,826.0L1498.8,821.0L1506.3,820.2Z" fill="#0096ff"/>
<path d="M2144.1,439.1L2147.2,446.0L2154.7,446.8L2149.0,451.8L2150.6,459.2L2144.1,455.4L2137.6,459.2L2139.2,451.8L2133.5,446.8L2141.0,446.0Z" fill="#ffdc00"/>
<path d="M2194.4,461.8L2197.5,468.7L2205.0,469.5L2199.3,474.5L2200.9,481.9L2194.4,478.1L2187.9,481.9L2189.5,474.5L2183.8,469.5L2191.3,468.7Z" fill="#ff00e2"/>
<path d="M2193.8,553.5L2196.9,560.4L2204.4,561.2L2198.7,566.2L2200.3,573.6L2193.8,569.8L2187.3,573.6L2188.9,566.2L2183.2,561.2L2190.7,560.4Z" fill="#00ee00"/>
<path d="M2038.1,574.5L2041.2,581.4L2048.7,582.2L2043.0,587.2L2044.6,594.6L2038.1,590.8L2031.6,594.6L2033.2,587.2L2027.5,582.2L2035.0,581.4Z" fill="#0096ff"/>
<path d="M2175.3,750.8L2178.4,757.7L2185.9,758.5L2180.2,763.5L2181.8,770.9L2175.3,767.1L2168.8,770.9L2170.4,763.5L2164.7,758.5L2172.2,757.7Z" fill="#4f00ff"/>
<path d="M636.8,873.8L639.9,880.7L647.4,881.5L641.7,886.5L643.3,893.9L636.8,890.1L630.3,893.9L631.9,886.5L626.2,881.5L633.7,880.7Z" fill="#ff00e2"/>
<path d="M661.4,960.9L664.5,967.8L672.0,968.6L666.3,973.6L667.9,981.0L661.4,977.2L654.9,981.0L656.5,973.6L650.8,968.6L658.3,967.8Z" fill="#ff00e2"/>
<path d="M671.5,1031.2L674.6,1038.1L682.1,1038.9L676.4,1043.9L678.0,1051.3L671.5,1047.5L665.0,1051.3L666.6,1043.9L660.9,1038.9L668.4,1038.1Z" fill="#ff00e2"/>
<path d="M484.7,1100.0L487.8,1106.9L495.3,1107.7L489.6,1112.7L491.2,1120.1L484.7,1116.3L478.2,1120.1L479.8,1112.7L474.1,1107.7L481.6,1106.9Z" fill="#4f00ff"/>
<path d="M514.1,1120.8L517.2,1127.7L524.7,1128.5L519.0,1133.5L520.6,1140.9L514.1,1137.1L507.6,1140.9L509.2,1133.5L503.5,1128.5L511.0,1127.7Z" fill="#ff00e2"/>
<path d="M640.4,1120.8L643.5,1127.7L651.0,1128.5L645.3,1133.5L646.9,1140.9L640.4,1137.1L633.9,1140.9L635.5,1133.5L629.8,1128.5L637.3,1127.7Z" fill="#ff00e2"/>
<path d="M642.5,1167.2L645.6,1174.1L653.1,1174.9L647.4,1179.9L649.0,1187.3L642.5,1183.5L636.0,1187.3L637.6,1179.9L631.9,1174.9L639.4,1174.1Z" fill="#ffdc00"/>
<path d="M696.5,1201.3L699.6,1208.2L707.1,1209.0L701.4,1214.0L703.0,1221.4L696.5,1217.6L690.0,1221.4L691.6,1214.0L685.9,1209.0L693.4,1208.2Z" fill="#4f00ff"/>
<path d="M709.4,880.9L712.5,887.8L720.0,888.6L714.3,893.6L715.9,901.0L709.4,897.2L702.9,901.0L704.5,893.6L698.8,888.6L706.3,887.8Z" fill="#ff00e2"/>
<path d="M898.0,895.8L901.1,902.7L908.6,903.5L902.9,908.5L904.5,915.9L898.0,912.1L891.5,915.9L893.1,908.5L887.4,903.5L894.9,902.7Z" fill="#4f00ff"/>
<path d="M882.0,906.8L885.1,913.7L892.6,914.5L886.9,919.5L888.5,926.9L882.0,923.1L875.5,926.9L877.1,919.5L871.4,914.5L878.9,913.7Z" fill="#0096ff"/>
<path d="M950.4,893.4L953.5,900.3L961.0,901.1L955.3,906.1L956.9,913.5L950.4,909.7L943.9,913.5L945.5,906.1L939.8,901.1L947.3,900.3Z" fill="#ff00e2"/>
<path d="M925.6,912.8L928.7,919.7L936.2,920.5L930.5,925.5L932.1,932.9L925.6,929.1L919.1,932.9L920.7,925.5L915.0,920.5L922.5,919.7Z" fill="#00ee00"/>
<path d="M834.3,934.4L837.4,941.3L844.9,942.1L839.2,947.1L840.8,954.5L834.3,950.7L827.8,954.5L829.4,947.1L823.7,942.1L831.2,941.3Z" fill="#00ee00"/>
<path d="M804.8,967.1L807.9,974.0L815.4,974.8L809.7,979.8L811.3,987.2L804.8,983.4L798.3,987.2L799.9,979.8L794.2,974.8L801.7,974.0Z" fill="#0096ff"/>
<path d="M929.8,942.7L932.9,949.6L940.4,950.4L934.7,955.4L936.3,962.8L929.8,959.0L923.3,962.8L924.9,955.4L919.2,950.4L926.7,949.6Z" fill="#0096ff"/>
<path d="M941.3,949.6L944.4,956.5L951.9,957.3L946.2,962.3L947.8,969.7L941.3,965.9L934.8,969.7L936.4,962.3L930.7,957.3L938.2,956.5Z" fill="#0096ff"/>
<path d="M944.1,960.3L947.2,967.2L954.7,968.0L949.0,973.0L950.6,980.4L944.1,976.6L937.6,980.4L939.2,973.0L933.5,968.0L941.0,967.2Z" fill="#4f00ff"/>
<path d="M971.2,946.2L974.3,953.1L981.8,953.9L976.1,958.9L977.7,966.3L971.2,962.5L964.7,966.3L966.3,958.9L960.6,953.9L968.1,953.1Z" fill="#00ee00"/>
<path d="M871.7,976.9L874.8,983.8L882.3,984.6L876.6,989.6L878.2,997.0L871.7,993.2L865.2,997.0L866.8,989.6L861.1,984.6L868.6,983.8Z" fill="#00ee00"/>
<path d="M904.8,996.2L907.9,1003.1L915.4,1003.9L909.7,1008.9L911.3,1016.3L904.8,1012.5L898.3,1016.3L899.9,1008.9L894.2,1003.9L901.7,1003.1Z" fill="#00ee00"/>
<path d="M788.6,1014.3L791.7,1021.2L799.2,1022.0L793.5,1027.0L795.1,1034.4L788.6,1030.6L782.1,1034.4L783.7,1027.0L778.0,1022.0L785.5,1021.2Z" fill="#ff00e2"/>
<path d="M770.2,1061.2L773.3,1068.1L780.8,1068.9L775.1,1073.9L776.7,1081.3L770.2,1077.5L763.7,1081.3L765.3,1073.9L759.6,1068.9L767.1,1068.1Z" fill="#0096ff"/>
<path d="M968.8,1087.8L971.9,1094.7L979.4,1095.5L973.7,1100.5L975.3,1107.9L968.8,1104.1L962.3,1107.9L963.9,1100.5L958.2,1095.5L965.7,1094.7Z" fill="#ffdc00"/>
<path d="M950.7,1123.3L953.8,1130.2L961.3,1131.0L955.6,1136.0L957.2,1143.4L950.7,1139.6L944.2,1143.4L945.8,1136.0L940.1,1131.0L947.6,1130.2Z" fill="#ffdc00"/>
<path d="M1024.9,836.8L1028.0,843.7L1035.5,844.5L1029.8,849.5L1031.4,856.9L1024.9,853.1L1018.4,856.9L1020.0,849.5L1014.3,844.5L1021.8,843.7Z" fill="#ffdc00"/>
<path d="M1139.8,892.7L1142.9,899.6L1150.4,900.4L1144.7,905.4L1146.3,912.8L1139.8,909.0L1133.3,912.8L1134.9,905.4L1129.2,900.4L1136.7,899.6Z" fill="#00ee00"/>
<path d="M1031.9,890.3L1035.0,897.2L1042.5,898.0L1036.8,903.0L1038.4,910.4L1031.9,906.6L1025.4,910.4L1027.0,903.0L1021.3,898.0L1028.8,897.2Z" fill="#0096ff"/>
<path d="M1057.1,884.8L1060.2,891.7L1067.7,892.5L1062.0,897.5L1063.6,904.9L1057.1,901.1L1050.6,904.9L1052.2,897.5L1046.5,892.5L1054.0,891.7Z" fill="#ffdc00"/>
<path d="M1252.3,895.8L1255.4,902.7L1262.9,903.5L1257.2,908.5L1258.8,915.9L1252.3,912.1L1245.8,915.9L1247.4,908.5L1241.7,903.5L1249.2,902.7Z" fill="#ffdc00"/>
<path d="M1190.1,903.7L1193.2,910.6L1200.7,911.4L1195.0,916.4L1196.6,923.8L1190.1,920.0L1183.6,923.8L1185.2,916.4L1179.5,911.4L1187.0,910.6Z" fill="#00ee00"/>
<path d="M1057.9,918.6L1061.0,925.5L1068.5,926.3L1062.8,931.3L1064.4,938.7L1057.9,934.9L1051.4,938.7L1053.0,931.3L1047.3,926.3L1054.8,925.5Z" fill="#ff00e2"/>
<path d="M1166.5,918.6L1169.6,925.5L1177.1,926.3L1171.4,931.3L1173.0,938.7L1166.5,934.9L1160.0,938.7L1161.6,931.3L1155.9,926.3L1163.4,925.5Z" fill="#0096ff"/>
<path d="M1183.1,927.3L1186.2,934.2L1193.7,935.0L1188.0,940.0L1189.6,947.4L1183.1,943.6L1176.6,947.4L1178.2,940.0L1172.5,935.0L1180.0,934.2Z" fill="#ff00e2"/>
<path d="M1175.2,938.3L1178.3,945.2L1185.8,946.0L1180.1,951.0L1181.7,958.4L1175.2,954.6L1168.7,958.4L1170.3,951.0L1164.6,946.0L1172.1,945.2Z" fill="#4f00ff"/>
<path d="M1113.0,932.8L1116.1,939.7L1123.6,940.5L1117.9,945.5L1119.5,952.9L1113.0,949.1L1106.5,952.9L1108.1,945.5L1102.4,940.5L1109.9,939.7Z" fill="#00ee00"/>
<path d="M1211.4,933.6L1214.5,940.5L1222.0,941.3L1216.3,946.3L1217.9,953.7L1211.4,949.9L1204.9,953.7L1206.5,946.3L1200.8,941.3L1208.3,940.5Z" fill="#00ee00"/>
<path d="M986.3,943.0L989.4,949.9L996.9,950.7L991.2,955.7L992.8,963.1L986.3,959.3L979.8,963.1L981.4,955.7L975.7,950.7L983.2,949.9Z" fill="#4f00ff"/>
<path d="M1087.8,960.3L1090.9,967.2L1098.4,968.0L1092.7,973.0L1094.3,980.4L1087.8,976.6L1081.3,980.4L1082.9,973.0L1077.2,968.0L1084.7,967.2Z" fill="#4f00ff"/>
<path d="M1247.6,954.8L1250.7,961.7L1258.2,962.5L1252.5,967.5L1254.1,974.9L1247.6,971.1L1241.1,974.9L1242.7,967.5L1237.0,962.5L1244.5,961.7Z" fill="#00ee00"/>
<path d="M1203.5,963.5L1206.6,970.4L1214.1,971.2L1208.4,976.2L1210.0,983.6L1203.5,979.8L1197.0,983.6L1198.6,976.2L1192.9,971.2L1200.4,970.4Z" fill="#00ee00"/>
<path d="M1072.9,988.7L1076.0,995.6L1083.5,996.4L1077.8,1001.4L1079.4,1008.8L1072.9,1005.0L1066.4,1008.8L1068.0,1001.4L1062.3,996.4L1069.8,995.6Z" fill="#4f00ff"/>
<path d="M1137.4,1003.6L1140.5,1010.5L1148.0,1011.3L1142.3,1016.3L1143.9,1023.7L1137.4,1019.9L1130.9,1023.7L1132.5,1016.3L1126.8,1011.3L1134.3,1010.5Z" fill="#0096ff"/>
<path d="M1116.9,1020.2L1120.0,1027.1L1127.5,1027.9L1121.8,1032.9L1123.4,1040.3L1116.9,1036.5L1110.4,1040.3L1112.0,1032.9L1106.3,1027.9L1113.8,1027.1Z" fill="#00ee00"/>
<path d="M1210.6,1017.0L1213.7,1023.9L1221.2,1024.7L1215.5,1029.7L1217.1,1037.1L1210.6,1033.3L1204.1,1037.1L1205.7,1029.7L1200.0,1024.7L1207.5,1023.9Z" fill="#ffdc00"/>
<path d="M1088.1,1033.2L1091.2,1040.1L1098.7,1040.9L1093.0,1045.9L1094.6,1053.3L1088.1,1049.5L1081.6,1053.3L1083.2,1045.9L1077.5,1040.9L1085.0,1040.1Z" fill="#4f00ff"/>
<path d="M1135.8,1060.3L1138.9,1067.2L1146.4,1068.0L1140.7,1073.0L1142.3,1080.4L1135.8,1076.6L1129.3,1080.4L1130.9,1073.0L1125.2,1068.0L1132.7,1067.2Z" fill="#4f00ff"/>
<path d="M1218.5,1089.4L1221.6,1096.3L1229.1,1097.1L1223.4,1102.1L1225.0,1109.5L1218.5,1105.7L1212.0,1109.5L1213.6,1102.1L1207.9,1097.1L1215.4,1096.3Z" fill="#ff0000"/>
<path d="M1162.6,1101.2L1165.7,1108.1L1173.2,1108.9L1167.5,1113.9L1169.1,1121.3L1162.6,1117.5L1156.1,1121.3L1157.7,1113.9L1152.0,1108.9L1159.5,1108.1Z" fill="#0096ff"/>
<path d="M1193.3,1111.5L1196.4,1118.4L1203.9,1119.2L1198.2,1124.2L1199.8,1131.6L1193.3,1127.8L1186.8,1131.6L1188.4,1124.2L1182.7,1119.2L1190.2,1118.4Z" fill="#4f00ff"/>
<path d="M1133.5,1113.8L1136.6,1120.7L1144.1,1121.5L1138.4,1126.5L1140.0,1133.9L1133.5,1130.1L1127.0,1133.9L1128.6,1126.5L1122.9,1121.5L1130.4,1120.7Z" fill="#4f00ff"/>
<path d="M1113.0,1122.5L1116.1,1129.4L1123.6,1130.2L1117.9,1135.2L1119.5,1142.6L1113.0,1138.8L1106.5,1142.6L1108.1,1135.2L1102.4,1130.2L1109.9,1129.4Z" fill="#ffdc00"/>
<path d="M994.2,1114.6L997.3,1121.5L1004.8,1122.3L999.1,1127.3L1000.7,1134.7L994.2,1130.9L987.7,1134.7L989.3,1127.3L983.6,1122.3L991.1,1121.5Z" fill="#00ee00"/>
<path d="M1098.1,1081.5L1101.2,1088.4L1108.7,1089.2L1103.0,1094.2L1104.6,1101.6L1098.1,1097.8L1091.6,1101.6L1093.2,1094.2L1087.5,1089.2L1095.0,1088.4Z" fill="#00ee00"/>
<path d="M1028.8,1072.1L1031.9,1079.0L1039.4,1079.8L1033.7,1084.8L1035.3,1092.2L1028.8,1088.4L1022.3,1092.2L1023.9,1084.8L1018.2,1079.8L1025.7,1079.0Z" fill="#00ee00"/>
<path d="M1002.5,1054.0L1005.6,1060.9L1013.1,1061.7L1007.4,1066.7L1009.0,1074.1L1002.5,1070.3L996.0,1074.1L997.6,1066.7L991.9,1061.7L999.4,1060.9Z" fill="#ffdc00"/>
<path d="M984.7,1089.4L987.8,1096.3L995.3,1097.1L989.6,1102.1L991.2,1109.5L984.7,1105.7L978.2,1109.5L979.8,1102.1L974.1,1097.1L981.6,1096.3Z" fill="#00ee00"/>
<path d="M1300.0,886.4L1303.1,893.3L1310.6,894.1L1304.9,899.1L1306.5,906.5L1300.0,902.7L1293.5,906.5L1295.1,899.1L1289.4,894.1L1296.9,893.3Z" fill="#ff0000"/>
<path d="M1350.0,884.0L1353.1,890.9L1360.6,891.7L1354.9,896.7L1356.5,904.1L1350.0,900.3L1343.5,904.1L1345.1,896.7L1339.4,891.7L1346.9,890.9Z" fill="#ffdc00"/>
<path d="M1447.6,851.7L1450.7,858.6L1458.2,859.4L1452.5,864.4L1454.1,871.8L1447.6,868.0L1441.1,871.8L1442.7,864.4L1437.0,859.4L1444.5,858.6Z" fill="#4f00ff"/>
<path d="M1413.0,969.0L1416.1,975.9L1423.6,976.7L1417.9,981.7L1419.5,989.1L1413.0,985.3L1406.5,989.1L1408.1,981.7L1402.4,976.7L1409.9,975.9Z" fill="#00ee00"/>
<path d="M1572.5,1082.3L1575.6,1089.2L1583.1,1090.0L1577.4,1095.0L1579.0,1102.4L1572.5,1098.6L1566.0,1102.4L1567.6,1095.0L1561.9,1090.0L1569.4,1089.2Z" fill="#ffdc00"/>
<path d="M1289.4,1130.7L1292.5,1137.6L1300.0,1138.4L1294.3,1143.4L1295.9,1150.8L1289.4,1147.0L1282.9,1150.8L1284.5,1143.4L1278.8,1138.4L1286.3,1137.6Z" fill="#ffdc00"/>
<path d="M2036.1,998.6L2039.2,1005.5L2046.7,1006.3L2041.0,1011.3L2042.6,1018.7L2036.1,1014.9L2029.6,1018.7L2031.2,1011.3L2025.5,1006.3L2033.0,1005.5Z" fill="#00ee00"/>
<path d="M771.3,1162.3L774.4,1169.2L781.9,1170.0L776.2,1175.0L777.8,1182.4L771.3,1178.6L764.8,1182.4L766.4,1175.0L760.7,1170.0L768.2,1169.2Z" fill="#0096ff"/>
<path d="M794.1,1151.7L797.2,1158.6L804.7,1159.4L799.0,1164.4L800.6,1171.8L794.1,1168.0L787.6,1171.8L789.2,1164.4L783.5,1159.4L791.0,1158.6Z" fill="#0096ff"/>
<path d="M911.4,1144.7L914.5,1151.6L922.0,1152.4L916.3,1157.4L917.9,1164.8L911.4,1161.0L904.9,1164.8L906.5,1157.4L900.8,1152.4L908.3,1151.6Z" fill="#4f00ff"/>
<path d="M938.1,1143.1L941.2,1150.0L948.7,1150.8L943.0,1155.8L944.6,1163.2L938.1,1159.4L931.6,1163.2L933.2,1155.8L927.5,1150.8L935.0,1150.0Z" fill="#0096ff"/>
<path d="M969.6,1138.4L972.7,1145.3L980.2,1146.1L974.5,1151.1L976.1,1158.5L969.6,1154.7L963.1,1158.5L964.7,1151.1L959.0,1146.1L966.5,1145.3Z" fill="#4f00ff"/>
<path d="M713.1,1197.4L716.2,1204.3L723.7,1205.1L718.0,1210.1L719.6,1217.5L713.1,1213.7L706.6,1217.5L708.2,1210.1L702.5,1205.1L710.0,1204.3Z" fill="#ff00e2"/>
<path d="M730.1,1190.3L733.2,1197.2L740.7,1198.0L735.0,1203.0L736.6,1210.4L730.1,1206.6L723.6,1210.4L725.2,1203.0L719.5,1198.0L727.0,1197.2Z" fill="#0096ff"/>
<path d="M782.3,1201.3L785.4,1208.2L792.9,1209.0L787.2,1214.0L788.8,1221.4L782.3,1217.6L775.8,1221.4L777.4,1214.0L771.7,1209.0L779.2,1208.2Z" fill="#ffdc00"/>
<path d="M783.1,1190.3L786.2,1197.2L793.7,1198.0L788.0,1203.0L789.6,1210.4L783.1,1206.6L776.6,1210.4L778.2,1203.0L772.5,1198.0L780.0,1197.2Z" fill="#00ee00"/>
<path d="M831.1,1232.0L834.2,1238.9L841.7,1239.7L836.0,1244.7L837.6,1252.1L831.1,1248.3L824.6,1252.1L826.2,1244.7L820.5,1239.7L828.0,1238.9Z" fill="#ff00e2"/>
<path d="M835.0,1220.2L838.1,1227.1L845.6,1227.9L839.9,1232.9L841.5,1240.3L835.0,1236.5L828.5,1240.3L830.1,1232.9L824.4,1227.9L831.9,1227.1Z" fill="#00ee00"/>
<path d="M750.8,1210.0L753.9,1216.9L761.4,1217.7L755.7,1222.7L757.3,1230.1L750.8,1226.3L744.3,1230.1L745.9,1222.7L740.2,1217.7L747.7,1216.9Z" fill="#4f00ff"/>
<path d="M971.2,1200.5L974.3,1207.4L981.8,1208.2L976.1,1213.2L977.7,1220.6L971.2,1216.8L964.7,1220.6L966.3,1213.2L960.6,1208.2L968.1,1207.4Z" fill="#0096ff"/>
<path d="M961.8,1210.0L964.9,1216.9L972.4,1217.7L966.7,1222.7L968.3,1230.1L961.8,1226.3L955.3,1230.1L956.9,1222.7L951.2,1217.7L958.7,1216.9Z" fill="#00ee00"/>
<path d="M922.4,1210.0L925.5,1216.9L933.0,1217.7L927.3,1222.7L928.9,1230.1L922.4,1226.3L915.9,1230.1L917.5,1222.7L911.8,1217.7L919.3,1216.9Z" fill="#ffdc00"/>
<path d="M834.3,1263.5L837.4,1270.4L844.9,1271.2L839.2,1276.2L840.8,1283.6L834.3,1279.8L827.8,1283.6L829.4,1276.2L823.7,1271.2L831.2,1270.4Z" fill="#0096ff"/>
<path d="M856.3,1257.2L859.4,1264.1L866.9,1264.9L861.2,1269.9L862.8,1277.3L856.3,1273.5L849.8,1277.3L851.4,1269.9L845.7,1264.9L853.2,1264.1Z" fill="#00ee00"/>
<path d="M898.8,1247.0L901.9,1253.9L909.4,1254.7L903.7,1259.7L905.3,1267.1L898.8,1263.3L892.3,1267.1L893.9,1259.7L888.2,1254.7L895.7,1253.9Z" fill="#4f00ff"/>
<path d="M898.0,1258.8L901.1,1265.7L908.6,1266.5L902.9,1271.5L904.5,1278.9L898.0,1275.1L891.5,1278.9L893.1,1271.5L887.4,1266.5L894.9,1265.7Z" fill="#0096ff"/>
<path d="M950.7,1260.3L953.8,1267.2L961.3,1268.0L955.6,1273.0L957.2,1280.4L950.7,1276.6L944.2,1280.4L945.8,1273.0L940.1,1268.0L947.6,1267.2Z" fill="#ffdc00"/>
<path d="M954.7,1262.7L957.8,1269.6L965.3,1270.4L959.6,1275.4L961.2,1282.8L954.7,1279.0L948.2,1282.8L949.8,1275.4L944.1,1270.4L951.6,1269.6Z" fill="#4f00ff"/>
<path d="M946.0,1274.5L949.1,1281.4L956.6,1282.2L950.9,1287.2L952.5,1294.6L946.0,1290.8L939.5,1294.6L941.1,1287.2L935.4,1282.2L942.9,1281.4Z" fill="#ff00e2"/>
<path d="M971.2,1279.2L974.3,1286.1L981.8,1286.9L976.1,1291.9L977.7,1299.3L971.2,1295.5L964.7,1299.3L966.3,1291.9L960.6,1286.9L968.1,1286.1Z" fill="#4f00ff"/>
<path d="M683.1,1299.7L686.2,1306.6L693.7,1307.4L688.0,1312.4L689.6,1319.8L683.1,1316.0L676.6,1319.8L678.2,1312.4L672.5,1307.4L680.0,1306.6Z" fill="#ff00e2"/>
<path d="M738.2,1288.7L741.3,1295.6L748.8,1296.4L743.1,1301.4L744.7,1308.8L738.2,1305.0L731.7,1308.8L733.3,1301.4L727.6,1296.4L735.1,1295.6Z" fill="#4f00ff"/>
<path d="M747.7,1296.6L750.8,1303.5L758.3,1304.3L752.6,1309.3L754.2,1316.7L747.7,1312.9L741.2,1316.7L742.8,1309.3L737.1,1304.3L744.6,1303.5Z" fill="#4f00ff"/>
<path d="M900.4,1287.9L903.5,1294.8L911.0,1295.6L905.3,1300.6L906.9,1308.0L900.4,1304.2L893.9,1308.0L895.5,1300.6L889.8,1295.6L897.3,1294.8Z" fill="#00ee00"/>
<path d="M853.9,1304.4L857.0,1311.3L864.5,1312.1L858.8,1317.1L860.4,1324.5L853.9,1320.7L847.4,1324.5L849.0,1317.1L843.3,1312.1L850.8,1311.3Z" fill="#ff00e2"/>
<path d="M920.8,1296.6L923.9,1303.5L931.4,1304.3L925.7,1309.3L927.3,1316.7L920.8,1312.9L914.3,1316.7L915.9,1309.3L910.2,1304.3L917.7,1303.5Z" fill="#ff00e2"/>
<path d="M972.8,1304.4L975.9,1311.3L983.4,1312.1L977.7,1317.1L979.3,1324.5L972.8,1320.7L966.3,1324.5L967.9,1317.1L962.2,1312.1L969.7,1311.3Z" fill="#00ee00"/>
<path d="M701.2,1306.0L704.3,1312.9L711.8,1313.7L706.1,1318.7L707.7,1326.1L701.2,1322.3L694.7,1326.1L696.3,1318.7L690.6,1313.7L698.1,1312.9Z" fill="#ff0000"/>
<path d="M777.6,1312.3L780.7,1319.2L788.2,1320.0L782.5,1325.0L784.1,1332.4L777.6,1328.6L771.1,1332.4L772.7,1325.0L767.0,1320.0L774.5,1319.2Z" fill="#4f00ff"/>
<path d="M699.7,1317.8L702.8,1324.7L710.3,1325.5L704.6,1330.5L706.2,1337.9L699.7,1334.1L693.2,1337.9L694.8,1330.5L689.1,1325.5L696.6,1324.7Z" fill="#4f00ff"/>
<path d="M884.6,1317.8L887.7,1324.7L895.2,1325.5L889.5,1330.5L891.1,1337.9L884.6,1334.1L878.1,1337.9L879.7,1330.5L874.0,1325.5L881.5,1324.7Z" fill="#0096ff"/>
<path d="M911.4,1308.4L914.5,1315.3L922.0,1316.1L916.3,1321.1L917.9,1328.5L911.4,1324.7L904.9,1328.5L906.5,1321.1L900.8,1316.1L908.3,1315.3Z" fill="#ff00e2"/>
<path d="M731.9,1337.5L735.0,1344.4L742.5,1345.2L736.8,1350.2L738.4,1357.6L731.9,1353.8L725.4,1357.6L727.0,1350.2L721.3,1345.2L728.8,1344.4Z" fill="#ff00e2"/>
<path d="M919.3,1332.8L922.4,1339.7L929.9,1340.5L924.2,1345.5L925.8,1352.9L919.3,1349.1L912.8,1352.9L914.4,1345.5L908.7,1340.5L916.2,1339.7Z" fill="#ffdc00"/>
<path d="M848.7,1341.4L851.8,1348.3L859.3,1349.1L853.6,1354.1L855.2,1361.5L848.7,1357.7L842.2,1361.5L843.8,1354.1L838.1,1349.1L845.6,1348.3Z" fill="#ff00e2"/>
<path d="M686.3,1350.1L689.4,1357.0L696.9,1357.8L691.2,1362.8L692.8,1370.2L686.3,1366.4L679.8,1370.2L681.4,1362.8L675.7,1357.8L683.2,1357.0Z" fill="#ffdc00"/>
<path d="M938.1,1364.2L941.2,1371.1L948.7,1371.9L943.0,1376.9L944.6,1384.3L938.1,1380.5L931.6,1384.3L933.2,1376.9L927.5,1371.9L935.0,1371.1Z" fill="#ff00e2"/>
<path d="M853.1,1375.3L856.2,1382.2L863.7,1383.0L858.0,1388.0L859.6,1395.4L853.1,1391.6L846.6,1395.4L848.2,1388.0L842.5,1383.0L850.0,1382.2Z" fill="#4f00ff"/>
<path d="M746.1,1416.2L749.2,1423.1L756.7,1423.9L751.0,1428.9L752.6,1436.3L746.1,1432.5L739.6,1436.3L741.2,1428.9L735.5,1423.9L743.0,1423.1Z" fill="#ff00e2"/>
<path d="M767.4,1411.5L770.5,1418.4L778.0,1419.2L772.3,1424.2L773.9,1431.6L767.4,1427.8L760.9,1431.6L762.5,1424.2L756.8,1419.2L764.3,1418.4Z" fill="#4f00ff"/>
<path d="M840.6,1417.8L843.7,1424.7L851.2,1425.5L845.5,1430.5L847.1,1437.9L840.6,1434.1L834.1,1437.9L835.7,1430.5L830.0,1425.5L837.5,1424.7Z" fill="#4f00ff"/>
<path d="M890.1,1422.5L893.2,1429.4L900.7,1430.2L895.0,1435.2L896.6,1442.6L890.1,1438.8L883.6,1442.6L885.2,1435.2L879.5,1430.2L887.0,1429.4Z" fill="#00ee00"/>
<path d="M946.0,1422.5L949.1,1429.4L956.6,1430.2L950.9,1435.2L952.5,1442.6L946.0,1438.8L939.5,1442.6L941.1,1435.2L935.4,1430.2L942.9,1429.4Z" fill="#ffdc00"/>
<path d="M1090.2,1143.9L1093.3,1150.8L1100.8,1151.6L1095.1,1156.6L1096.7,1164.0L1090.2,1160.2L1083.7,1164.0L1085.3,1156.6L1079.6,1151.6L1087.1,1150.8Z" fill="#00ee00"/>
<path d="M1235.0,1134.4L1238.1,1141.3L1245.6,1142.1L1239.9,1147.1L1241.5,1154.5L1235.0,1150.7L1228.5,1154.5L1230.1,1147.1L1224.4,1142.1L1231.9,1141.3Z" fill="#0096ff"/>
<path d="M1025.6,1159.6L1028.7,1166.5L1036.2,1167.3L1030.5,1172.3L1032.1,1179.7L1025.6,1175.9L1019.1,1179.7L1020.7,1172.3L1015.0,1167.3L1022.5,1166.5Z" fill="#ff00e2"/>
<path d="M983.9,1194.2L987.0,1201.1L994.5,1201.9L988.8,1206.9L990.4,1214.3L983.9,1210.5L977.4,1214.3L979.0,1206.9L973.3,1201.9L980.8,1201.1Z" fill="#4f00ff"/>
<path d="M1002.8,1239.9L1005.9,1246.8L1013.4,1247.6L1007.7,1252.6L1009.3,1260.0L1002.8,1256.2L996.3,1260.0L997.9,1252.6L992.2,1247.6L999.7,1246.8Z" fill="#ff00e2"/>
<path d="M1138.2,1197.4L1141.3,1204.3L1148.8,1205.1L1143.1,1210.1L1144.7,1217.5L1138.2,1213.7L1131.7,1217.5L1133.3,1210.1L1127.6,1205.1L1135.1,1204.3Z" fill="#0096ff"/>
<path d="M1173.3,1288.7L1176.4,1295.6L1183.9,1296.4L1178.2,1301.4L1179.8,1308.8L1173.3,1305.0L1166.8,1308.8L1168.4,1301.4L1162.7,1296.4L1170.2,1295.6Z" fill="#ff00e2"/>
<path d="M1270.4,1314.7L1273.5,1321.6L1281.0,1322.4L1275.3,1327.4L1276.9,1334.8L1270.4,1331.0L1263.9,1334.8L1265.5,1327.4L1259.8,1322.4L1267.3,1321.6Z" fill="#ff00e2"/>
<path d="M1084.7,1323.3L1087.8,1330.2L1095.3,1331.0L1089.6,1336.0L1091.2,1343.4L1084.7,1339.6L1078.2,1343.4L1079.8,1336.0L1074.1,1331.0L1081.6,1330.2Z" fill="#0096ff"/>
<path d="M1104.4,1340.6L1107.5,1347.5L1115.0,1348.3L1109.3,1353.3L1110.9,1360.7L1104.4,1356.9L1097.9,1360.7L1099.5,1353.3L1093.8,1348.3L1101.3,1347.5Z" fill="#ff00e2"/>
<path d="M1017.8,1323.3L1020.9,1330.2L1028.4,1331.0L1022.7,1336.0L1024.3,1343.4L1017.8,1339.6L1011.3,1343.4L1012.9,1336.0L1007.2,1331.0L1014.7,1330.2Z" fill="#00ee00"/>
<path d="M991.8,1339.8L994.9,1346.7L1002.4,1347.5L996.7,1352.5L998.3,1359.9L991.8,1356.1L985.3,1359.9L986.9,1352.5L981.2,1347.5L988.7,1346.7Z" fill="#4f00ff"/>
<path d="M1111.0,1396.5L1114.1,1403.4L1121.6,1404.2L1115.9,1409.2L1117.5,1416.6L1111.0,1412.8L1104.5,1416.6L1106.1,1409.2L1100.4,1404.2L1107.9,1403.4Z" fill="#00ee00"/>
<path d="M1410.1,1348.0L1413.2,1354.9L1420.7,1355.7L1415.0,1360.7L1416.6,1368.1L1410.1,1364.3L1403.6,1368.1L1405.2,1360.7L1399.5,1355.7L1407.0,1354.9Z" fill="#ff00e2"/>
<path d="M716.2,1432.8L719.3,1439.7L726.8,1440.5L721.1,1445.5L722.7,1452.9L716.2,1449.1L709.7,1452.9L711.3,1445.5L705.6,1440.5L713.1,1439.7Z" fill="#00ee00"/>
<path d="M811.4,1440.7L814.5,1447.6L822.0,1448.4L816.3,1453.4L817.9,1460.8L811.4,1457.0L804.9,1460.8L806.5,1453.4L800.8,1448.4L808.3,1447.6Z" fill="#0096ff"/>
<path d="M828.0,1456.5L831.1,1463.4L838.6,1464.2L832.9,1469.2L834.5,1476.6L828.0,1472.8L821.5,1476.6L823.1,1469.2L817.4,1464.2L824.9,1463.4Z" fill="#ffdc00"/>
<path d="M711.5,1451.7L714.6,1458.6L722.1,1459.4L716.4,1464.4L718.0,1471.8L711.5,1468.0L705.0,1471.8L706.6,1464.4L700.9,1459.4L708.4,1458.6Z" fill="#4f00ff"/>
<path d="M681.6,1448.6L684.7,1455.5L692.2,1456.3L686.5,1461.3L688.1,1468.7L681.6,1464.9L675.1,1468.7L676.7,1461.3L671.0,1456.3L678.5,1455.5Z" fill="#00ee00"/>
<path d="M788.6,1470.6L791.7,1477.5L799.2,1478.3L793.5,1483.3L795.1,1490.7L788.6,1486.9L782.1,1490.7L783.7,1483.3L778.0,1478.3L785.5,1477.5Z" fill="#ff00e2"/>
<path d="M925.6,1468.3L928.7,1475.2L936.2,1476.0L930.5,1481.0L932.1,1488.4L925.6,1484.6L919.1,1488.4L920.7,1481.0L915.0,1476.0L922.5,1475.2Z" fill="#ff00e2"/>
<path d="M709.1,1480.1L712.2,1487.0L719.7,1487.8L714.0,1492.8L715.6,1500.2L709.1,1496.4L702.6,1500.2L704.2,1492.8L698.5,1487.8L706.0,1487.0Z" fill="#ff00e2"/>
<path d="M721.7,1469.1L724.8,1476.0L732.3,1476.8L726.6,1481.8L728.2,1489.2L721.7,1485.4L715.2,1489.2L716.8,1481.8L711.1,1476.8L718.6,1476.0Z" fill="#00ee00"/>
<path d="M722.5,1482.4L725.6,1489.3L733.1,1490.1L727.4,1495.1L729.0,1502.5L722.5,1498.7L716.0,1502.5L717.6,1495.1L711.9,1490.1L719.4,1489.3Z" fill="#ffdc00"/>
<path d="M740.6,1474.6L743.7,1481.5L751.2,1482.3L745.5,1487.3L747.1,1494.7L740.6,1490.9L734.1,1494.7L735.7,1487.3L730.0,1482.3L737.5,1481.5Z" fill="#00ee00"/>
<path d="M761.9,1483.2L765.0,1490.1L772.5,1490.9L766.8,1495.9L768.4,1503.3L761.9,1499.5L755.4,1503.3L757.0,1495.9L751.3,1490.9L758.8,1490.1Z" fill="#ff00e2"/>
<path d="M770.5,1490.3L773.6,1497.2L781.1,1498.0L775.4,1503.0L777.0,1510.4L770.5,1506.6L764.0,1510.4L765.6,1503.0L759.9,1498.0L767.4,1497.2Z" fill="#ff0000"/>
<path d="M738.2,1499.7L741.3,1506.6L748.8,1507.4L743.1,1512.4L744.7,1519.8L738.2,1516.0L731.7,1519.8L733.3,1512.4L727.6,1507.4L735.1,1506.6Z" fill="#00ee00"/>
<path d="M890.1,1520.2L893.2,1527.1L900.7,1527.9L895.0,1532.9L896.6,1540.3L890.1,1536.5L883.6,1540.3L885.2,1532.9L879.5,1527.9L887.0,1527.1Z" fill="#ffdc00"/>
<path d="M787.0,1519.4L790.1,1526.3L797.6,1527.1L791.9,1532.1L793.5,1539.5L787.0,1535.7L780.5,1539.5L782.1,1532.1L776.4,1527.1L783.9,1526.3Z" fill="#ff00e2"/>
<path d="M807.5,1525.7L810.6,1532.6L818.1,1533.4L812.4,1538.4L814.0,1545.8L807.5,1542.0L801.0,1545.8L802.6,1538.4L796.9,1533.4L804.4,1532.6Z" fill="#00ee00"/>
<path d="M826.4,1532.0L829.5,1538.9L837.0,1539.7L831.3,1544.7L832.9,1552.1L826.4,1548.3L819.9,1552.1L821.5,1544.7L815.8,1539.7L823.3,1538.9Z" fill="#ffdc00"/>
<path d="M913.0,1543.8L916.1,1550.7L923.6,1551.5L917.9,1556.5L919.5,1563.9L913.0,1560.1L906.5,1563.9L908.1,1556.5L902.4,1551.5L909.9,1550.7Z" fill="#4f00ff"/>
<path d="M701.2,1569.0L704.3,1575.9L711.8,1576.7L706.1,1581.7L707.7,1589.1L701.2,1585.3L694.7,1589.1L696.3,1581.7L690.6,1576.7L698.1,1575.9Z" fill="#4f00ff"/>
<path d="M686.3,1576.1L689.4,1583.0L696.9,1583.8L691.2,1588.8L692.8,1596.2L686.3,1592.4L679.8,1596.2L681.4,1588.8L675.7,1583.8L683.2,1583.0Z" fill="#ff00e2"/>
<path d="M744.5,1597.3L747.6,1604.2L755.1,1605.0L749.4,1610.0L751.0,1617.4L744.5,1613.6L738.0,1617.4L739.6,1610.0L733.9,1605.0L741.4,1604.2Z" fill="#0096ff"/>
<path d="M782.3,1596.2L785.4,1603.1L792.9,1603.9L787.2,1608.9L788.8,1616.3L782.3,1612.5L775.8,1616.3L777.4,1608.9L771.7,1603.9L779.2,1603.1Z" fill="#4f00ff"/>
<path d="M707.5,1602.1L710.6,1609.0L718.1,1609.8L712.4,1614.8L714.0,1622.2L707.5,1618.4L701.0,1622.2L702.6,1614.8L696.9,1609.8L704.4,1609.0Z" fill="#4f00ff"/>
<path d="M698.9,1621.7L702.0,1628.6L709.5,1629.4L703.8,1634.4L705.4,1641.8L698.9,1638.0L692.4,1641.8L694.0,1634.4L688.3,1629.4L695.8,1628.6Z" fill="#ffdc00"/>
<path d="M684.7,1607.6L687.8,1614.5L695.3,1615.3L689.6,1620.3L691.2,1627.7L684.7,1623.9L678.2,1627.7L679.8,1620.3L674.1,1615.3L681.6,1614.5Z" fill="#ff00e2"/>
<path d="M816.2,1644.6L819.3,1651.5L826.8,1652.3L821.1,1657.3L822.7,1664.7L816.2,1660.9L809.7,1664.7L811.3,1657.3L805.6,1652.3L813.1,1651.5Z" fill="#ff00e2"/>
<path d="M721.7,1661.9L724.8,1668.8L732.3,1669.6L726.6,1674.6L728.2,1682.0L721.7,1678.2L715.2,1682.0L716.8,1674.6L711.1,1669.6L718.6,1668.8Z" fill="#ffdc00"/>
<path d="M726.4,1675.3L729.5,1682.2L737.0,1683.0L731.3,1688.0L732.9,1695.4L726.4,1691.6L719.9,1695.4L721.5,1688.0L715.8,1683.0L723.3,1682.2Z" fill="#00ee00"/>
<path d="M767.8,1682.3L770.9,1689.2L778.4,1690.0L772.7,1695.0L774.3,1702.4L767.8,1698.6L761.3,1702.4L762.9,1695.0L757.2,1690.0L764.7,1689.2Z" fill="#4f00ff"/>
<path d="M896.4,1694.9L899.5,1701.8L907.0,1702.6L901.3,1707.6L902.9,1715.0L896.4,1711.2L889.9,1715.0L891.5,1707.6L885.8,1702.6L893.3,1701.8Z" fill="#ff00e2"/>
<path d="M989.4,1441.2L992.5,1448.1L1000.0,1448.9L994.3,1453.9L995.9,1461.3L989.4,1457.5L982.9,1461.3L984.5,1453.9L978.8,1448.9L986.3,1448.1Z" fill="#0096ff"/>
<path d="M1012.5,1474.8L1015.6,1481.7L1023.1,1482.5L1017.4,1487.5L1019.0,1494.9L1012.5,1491.1L1006.0,1494.9L1007.6,1487.5L1001.9,1482.5L1009.4,1481.7Z" fill="#ffdc00"/>
<path d="M1241.7,1570.7L1244.8,1577.6L1252.3,1578.4L1246.6,1583.4L1248.2,1590.8L1241.7,1587.0L1235.2,1590.8L1236.8,1583.4L1231.1,1578.4L1238.6,1577.6Z" fill="#00ee00"/>
<path d="M1152.5,1620.7L1155.6,1627.6L1163.1,1628.4L1157.4,1633.4L1159.0,1640.8L1152.5,1637.0L1146.0,1640.8L1147.6,1633.4L1141.9,1628.4L1149.4,1627.6Z" fill="#00ee00"/>
<path d="M1326.7,1612.3L1329.8,1619.2L1337.3,1620.0L1331.6,1625.0L1333.2,1632.4L1326.7,1628.6L1320.2,1632.4L1321.8,1625.0L1316.1,1620.0L1323.6,1619.2Z" fill="#ffdc00"/>
<path d="M520.1,1243.1L523.2,1250.0L530.7,1250.8L525.0,1255.8L526.6,1263.2L520.1,1259.4L513.6,1263.2L515.2,1255.8L509.5,1250.8L517.0,1250.0Z" fill="#4f00ff"/>
<path d="M601.2,1247.8L604.3,1254.7L611.8,1255.5L606.1,1260.5L607.7,1267.9L601.2,1264.1L594.7,1267.9L596.3,1260.5L590.6,1255.5L598.1,1254.7Z" fill="#4f00ff"/>
<path d="M526.4,1269.8L529.5,1276.7L537.0,1277.5L531.3,1282.5L532.9,1289.9L526.4,1286.1L519.9,1289.9L521.5,1282.5L515.8,1277.5L523.3,1276.7Z" fill="#ff00e2"/>
<path d="M509.1,1316.3L512.2,1323.2L519.7,1324.0L514.0,1329.0L515.6,1336.4L509.1,1332.6L502.6,1336.4L504.2,1329.0L498.5,1324.0L506.0,1323.2Z" fill="#ff00e2"/>
<path d="M391.0,1332.0L394.1,1338.9L401.6,1339.7L395.9,1344.7L397.5,1352.1L391.0,1348.3L384.5,1352.1L386.1,1344.7L380.4,1339.7L387.9,1338.9Z" fill="#ff00e2"/>
<path d="M445.3,1348.5L448.4,1355.4L455.9,1356.2L450.2,1361.2L451.8,1368.6L445.3,1364.8L438.8,1368.6L440.4,1361.2L434.7,1356.2L442.2,1355.4Z" fill="#ff00e2"/>
<path d="M549.2,1354.8L552.3,1361.7L559.8,1362.5L554.1,1367.5L555.7,1374.9L549.2,1371.1L542.7,1374.9L544.3,1367.5L538.6,1362.5L546.1,1361.7Z" fill="#4f00ff"/>
<path d="M568.1,1361.1L571.2,1368.0L578.7,1368.8L573.0,1373.8L574.6,1381.2L568.1,1377.4L561.6,1381.2L563.2,1373.8L557.5,1368.8L565.0,1368.0Z" fill="#0096ff"/>
<path d="M579.9,1380.0L583.0,1386.9L590.5,1387.7L584.8,1392.7L586.4,1400.1L579.9,1396.3L573.4,1400.1L575.0,1392.7L569.3,1387.7L576.8,1386.9Z" fill="#4f00ff"/>
<path d="M623.2,1338.3L626.3,1345.2L633.8,1346.0L628.1,1351.0L629.7,1358.4L623.2,1354.6L616.7,1358.4L618.3,1351.0L612.6,1346.0L620.1,1345.2Z" fill="#00ee00"/>
<path d="M605.1,1364.3L608.2,1371.2L615.7,1372.0L610.0,1377.0L611.6,1384.4L605.1,1380.6L598.6,1384.4L600.2,1377.0L594.5,1372.0L602.0,1371.2Z" fill="#ff00e2"/>
<path d="M630.3,1391.8L633.4,1398.7L640.9,1399.5L635.2,1404.5L636.8,1411.9L630.3,1408.1L623.8,1411.9L625.4,1404.5L619.7,1399.5L627.2,1398.7Z" fill="#ff00e2"/>
<path d="M608.2,1425.7L611.3,1432.6L618.8,1433.4L613.1,1438.4L614.7,1445.8L608.2,1442.0L601.7,1445.8L603.3,1438.4L597.6,1433.4L605.1,1432.6Z" fill="#ff00e2"/>
<path d="M594.9,1449.3L598.0,1456.2L605.5,1457.0L599.8,1462.0L601.4,1469.4L594.9,1465.6L588.4,1469.4L590.0,1462.0L584.3,1457.0L591.8,1456.2Z" fill="#0096ff"/>
<path d="M443.3,1451.6L446.4,1458.5L453.9,1459.3L448.2,1464.3L449.8,1471.7L443.3,1467.9L436.8,1471.7L438.4,1464.3L432.7,1459.3L440.2,1458.5Z" fill="#4f00ff"/>
<path d="M529.5,1480.0L532.6,1486.9L540.1,1487.7L534.4,1492.7L536.0,1500.1L529.5,1496.3L523.0,1500.1L524.6,1492.7L518.9,1487.7L526.4,1486.9Z" fill="#ff00e2"/>
<path d="M535.0,1480.0L538.1,1486.9L545.6,1487.7L539.9,1492.7L541.5,1500.1L535.0,1496.3L528.5,1500.1L530.1,1492.7L524.4,1487.7L531.9,1486.9Z" fill="#4f00ff"/>
<path d="M533.5,1491.0L536.6,1497.9L544.1,1498.7L538.4,1503.7L540.0,1511.1L533.5,1507.3L527.0,1511.1L528.6,1503.7L522.9,1498.7L530.4,1497.9Z" fill="#ff00e2"/>
<path d="M635.0,1490.2L638.1,1497.1L645.6,1497.9L639.9,1502.9L641.5,1510.3L635.0,1506.5L628.5,1510.3L630.1,1502.9L624.4,1497.9L631.9,1497.1Z" fill="#0096ff"/>
<path d="M600.4,1497.3L603.5,1504.2L611.0,1505.0L605.3,1510.0L606.9,1517.4L600.4,1513.6L593.9,1517.4L595.5,1510.0L589.8,1505.0L597.3,1504.2Z" fill="#0096ff"/>
<path d="M597.2,1511.5L600.3,1518.4L607.8,1519.2L602.1,1524.2L603.7,1531.6L597.2,1527.8L590.7,1531.6L592.3,1524.2L586.6,1519.2L594.1,1518.4Z" fill="#ff00e2"/>
<path d="M581.5,1516.5L584.6,1523.4L592.1,1524.2L586.4,1529.2L588.0,1536.6L581.5,1532.8L575.0,1536.6L576.6,1529.2L570.9,1524.2L578.4,1523.4Z" fill="#4f00ff"/>
<path d="M523.2,1527.5L526.3,1534.4L533.8,1535.2L528.1,1540.2L529.7,1547.6L523.2,1543.8L516.7,1547.6L518.3,1540.2L512.6,1535.2L520.1,1534.4Z" fill="#ff00e2"/>
<path d="M384.7,1544.0L387.8,1550.9L395.3,1551.7L389.6,1556.7L391.2,1564.1L384.7,1560.3L378.2,1564.1L379.8,1556.7L374.1,1551.7L381.6,1550.9Z" fill="#ff00e2"/>
<path d="M451.6,1582.6L454.7,1589.5L462.2,1590.3L456.5,1595.3L458.1,1602.7L451.6,1598.9L445.1,1602.7L446.7,1595.3L441.0,1590.3L448.5,1589.5Z" fill="#4f00ff"/>
<path d="M507.5,1607.8L510.6,1614.7L518.1,1615.5L512.4,1620.5L514.0,1627.9L507.5,1624.1L501.0,1627.9L502.6,1620.5L496.9,1615.5L504.4,1614.7Z" fill="#ffdc00"/>
<path d="M601.9,1555.8L605.0,1562.7L612.5,1563.5L606.8,1568.5L608.4,1575.9L601.9,1572.1L595.4,1575.9L597.0,1568.5L591.3,1563.5L598.8,1562.7Z" fill="#4f00ff"/>
<path d="M599.6,1582.6L602.7,1589.5L610.2,1590.3L604.5,1595.3L606.1,1602.7L599.6,1598.9L593.1,1602.7L594.7,1595.3L589.0,1590.3L596.5,1589.5Z" fill="#0096ff"/>
<path d="M606.7,1570.0L609.8,1576.9L617.3,1577.7L611.6,1582.7L613.2,1590.1L606.7,1586.3L600.2,1590.1L601.8,1582.7L596.1,1577.7L603.6,1576.9Z" fill="#00ee00"/>
<path d="M649.2,1560.5L652.3,1567.4L659.8,1568.2L654.1,1573.2L655.7,1580.6L649.2,1576.8L642.7,1580.6L644.3,1573.2L638.6,1568.2L646.1,1567.4Z" fill="#ff00e2"/>
<path d="M601.2,1653.4L604.3,1660.3L611.8,1661.1L606.1,1666.1L607.7,1673.5L601.2,1669.7L594.7,1673.5L596.3,1666.1L590.6,1661.1L598.1,1660.3Z" fill="#4f00ff"/>
<path d="M630.3,1648.7L633.4,1655.6L640.9,1656.4L635.2,1661.4L636.8,1668.8L630.3,1665.0L623.8,1668.8L625.4,1661.4L619.7,1656.4L627.2,1655.6Z" fill="#ff0000"/>
<path d="M657.8,1644.0L660.9,1650.9L668.4,1651.7L662.7,1656.7L664.3,1664.1L657.8,1660.3L651.3,1664.1L652.9,1656.7L647.2,1651.7L654.7,1650.9Z" fill="#4f00ff"/>
<path d="M677.5,1650.3L680.6,1657.2L688.1,1658.0L682.4,1663.0L684.0,1670.4L677.5,1666.6L671.0,1670.4L672.6,1663.0L666.9,1658.0L674.4,1657.2Z" fill="#ff00e2"/>
<path d="M644.4,1584.1L647.5,1591.0L655.0,1591.8L649.3,1596.8L650.9,1604.2L644.4,1600.4L637.9,1604.2L639.5,1596.8L633.8,1591.8L641.3,1591.0Z" fill="#ff00e2"/>
<path d="M653.9,1621.9L657.0,1628.8L664.5,1629.6L658.8,1634.6L660.4,1642.0L653.9,1638.2L647.4,1642.0L649.0,1634.6L643.3,1629.6L650.8,1628.8Z" fill="#0096ff"/>
<path d="M409.9,1699.0L413.0,1705.9L420.5,1706.7L414.8,1711.7L416.4,1719.1L409.9,1715.3L403.4,1719.1L405.0,1711.7L399.3,1706.7L406.8,1705.9Z" fill="#4f00ff"/>
<path d="M540.6,1666.8L543.7,1673.7L551.2,1674.5L545.5,1679.5L547.1,1686.9L540.6,1683.1L534.1,1686.9L535.7,1679.5L530.0,1674.5L537.5,1673.7Z" fill="#00ee00"/>
<path d="M565.7,1668.4L568.8,1675.3L576.3,1676.1L570.6,1681.1L572.2,1688.5L565.7,1684.7L559.2,1688.5L560.8,1681.1L555.1,1676.1L562.6,1675.3Z" fill="#ff00e2"/>
<path d="M645.2,1688.0L648.3,1694.9L655.8,1695.7L650.1,1700.7L651.7,1708.1L645.2,1704.3L638.7,1708.1L640.3,1700.7L634.6,1695.7L642.1,1694.9Z" fill="#ff00e2"/>
<path d="M1428.1,826.8L1431.2,833.7L1438.7,834.5L1433.0,839.5L1434.6,846.9L1428.1,843.1L1421.6,846.9L1423.2,839.5L1417.5,834.5L1425.0,833.7Z" fill="#4f00ff"/>
<path d="M815.7,1392.3L818.8,1399.2L826.3,1400.0L820.6,1405.0L822.2,1412.4L815.7,1408.6L809.2,1412.4L810.8,1405.0L805.1,1400.0L812.6,1399.2Z" fill="#ffdc00"/>
<path d="M811.5,1417.5L814.6,1424.4L822.1,1425.2L816.4,1430.2L818.0,1437.6L811.5,1433.8L805.0,1437.6L806.6,1430.2L800.9,1425.2L808.4,1424.4Z" fill="#00ee00"/></g>
<defs><clipPath id="axclip"><rect x="301.7" y="51.8" width="1934.1" height="1710.4"/></clipPath></defs>
<path d="M284.5 1775.9L2253.0 35.7" stroke="#000" stroke-width="8.6" fill="none" clip-path="url(#axclip)"/>
<g stroke="#231f20" stroke-width="5.5" fill="none">
<path d="M381.6 1759.4v-12.5 M381.6 54.6v12.5 M304.5 1691.2h12.5 M2233.0 1691.2h-12.5"/>
<path d="M458.8 1759.4v-12.5 M458.8 54.6v12.5 M304.5 1623.1h12.5 M2233.0 1623.1h-12.5"/>
<path d="M535.9 1759.4v-12.5 M535.9 54.6v12.5 M304.5 1554.9h12.5 M2233.0 1554.9h-12.5"/>
<path d="M613.1 1759.4v-12.5 M613.1 54.6v12.5 M304.5 1486.8h12.5 M2233.0 1486.8h-12.5"/>
<path d="M690.2 1759.4v-23.0 M690.2 54.6v23.0 M304.5 1418.6h23.0 M2233.0 1418.6h-23.0"/>
<path d="M767.3 1759.4v-12.5 M767.3 54.6v12.5 M304.5 1350.3h12.5 M2233.0 1350.3h-12.5"/>
<path d="M844.5 1759.4v-12.5 M844.5 54.6v12.5 M304.5 1282.1h12.5 M2233.0 1282.1h-12.5"/>
<path d="M921.6 1759.4v-12.5 M921.6 54.6v12.5 M304.5 1213.8h12.5 M2233.0 1213.8h-12.5"/>
<path d="M998.8 1759.4v-12.5 M998.8 54.6v12.5 M304.5 1145.6h12.5 M2233.0 1145.6h-12.5"/>
<path d="M1075.9 1759.4v-23.0 M1075.9 54.6v23.0 M304.5 1077.3h23.0 M2233.0 1077.3h-23.0"/>
<path d="M1153.0 1759.4v-12.5 M1153.0 54.6v12.5 M304.5 1009.1h12.5 M2233.0 1009.1h-12.5"/>
<path d="M1230.2 1759.4v-12.5 M1230.2 54.6v12.5 M304.5 941.0h12.5 M2233.0 941.0h-12.5"/>
<path d="M1307.3 1759.4v-12.5 M1307.3 54.6v12.5 M304.5 872.8h12.5 M2233.0 872.8h-12.5"/>
<path d="M1384.5 1759.4v-12.5 M1384.5 54.6v12.5 M304.5 804.7h12.5 M2233.0 804.7h-12.5"/>
<path d="M1461.6 1759.4v-23.0 M1461.6 54.6v23.0 M304.5 736.5h23.0 M2233.0 736.5h-23.0"/>
<path d="M1538.7 1759.4v-12.5 M1538.7 54.6v12.5 M304.5 668.0h12.5 M2233.0 668.0h-12.5"/>
<path d="M1615.9 1759.4v-12.5 M1615.9 54.6v12.5 M304.5 599.5h12.5 M2233.0 599.5h-12.5"/>
<path d="M1693.0 1759.4v-12.5 M1693.0 54.6v12.5 M304.5 531.0h12.5 M2233.0 531.0h-12.5"/>
<path d="M1770.2 1759.4v-12.5 M1770.2 54.6v12.5 M304.5 462.5h12.5 M2233.0 462.5h-12.5"/>
<path d="M1847.3 1759.4v-23.0 M1847.3 54.6v23.0 M304.5 394.0h23.0 M2233.0 394.0h-23.0"/>
<path d="M1924.4 1759.4v-12.5 M1924.4 54.6v12.5 M304.5 325.9h12.5 M2233.0 325.9h-12.5"/>
<path d="M2001.6 1759.4v-12.5 M2001.6 54.6v12.5 M304.5 257.8h12.5 M2233.0 257.8h-12.5"/>
<path d="M2078.7 1759.4v-12.5 M2078.7 54.6v12.5 M304.5 189.8h12.5 M2233.0 189.8h-12.5"/>
<path d="M2155.9 1759.4v-12.5 M2155.9 54.6v12.5 M304.5 121.7h12.5 M2233.0 121.7h-12.5"/>
</g>
<rect x="304.5" y="54.6" width="1928.5" height="1704.8" fill="none" stroke="#231f20" stroke-width="6"/>
<rect x="1620.7" y="1152.8" width="409.3" height="423.2" fill="#fff" stroke="#231f20" stroke-width="5.4"/>
<circle cx="1699.4" cy="1200.0" r="12.4" fill="#ff00e8"/>
<rect x="1689.0" y="1270.9" width="20.8" height="20.8" fill="#ff00e8"/>
<path d="M1699.4 1347.7l12.7 16.3l-12.7 16.3l-12.7 -16.3z" fill="#ff00e8"/>
<path d="M1699.4,1435.7L1702.5,1442.6L1710.0,1443.4L1704.3,1448.4L1705.9,1455.8L1699.4,1452.0L1692.9,1455.8L1694.5,1448.4L1688.8,1443.4L1696.3,1442.6Z" fill="#ff00e8"/>
<path d="M1637.7 1526.6H1761" stroke="#000" stroke-width="10.5"/>
<rect x="305.3" y="2057.0" width="276.4" height="65.5" fill="#ff00d9"/>
<rect x="581.2" y="2057.0" width="276.4" height="65.5" fill="#4f00ff"/>
<rect x="857.1" y="2057.0" width="276.4" height="65.5" fill="#0096ff"/>
<rect x="1133.0" y="2057.0" width="276.4" height="65.5" fill="#00f896"/>
<rect x="1408.9" y="2057.0" width="276.4" height="65.5" fill="#00ee00"/>
<rect x="1684.8" y="2057.0" width="276.4" height="65.5" fill="#ffdc00"/>
<rect x="1960.7" y="2057.0" width="275.9" height="65.5" fill="#ff0000"/>
<rect x="305.3" y="2057.0" width="1931.3" height="65.5" fill="none" stroke="#3a3a3a" stroke-width="1.2"/>
<path d="M691.6 2122.5v-20" stroke="#3a3a3a" stroke-width="1.2"/>
<path d="M1077.8 2122.5v-20" stroke="#3a3a3a" stroke-width="1.2"/>
<path d="M1464.1 2122.5v-20" stroke="#3a3a3a" stroke-width="1.2"/>
<path d="M1850.3 2122.5v-20" stroke="#3a3a3a" stroke-width="1.2"/>
<g><text transform="matrix(0.9314 0 0 0.9940 138.81 77.81)" font-size="100" xml:space="preserve" fill="#231f20">500</text>
<text transform="matrix(0.9181 0 0 0.9940 140.76 419.01)" font-size="100" xml:space="preserve" fill="#231f20">400</text>
<text transform="matrix(0.9277 0 0 1.0030 139.56 760.39)" font-size="100" xml:space="preserve" fill="#231f20">300</text>
<text transform="matrix(0.9268 0 0 0.9955 139.69 1100.61)" font-size="100" xml:space="preserve" fill="#231f20">200</text>
<text transform="matrix(0.9314 0 0 0.9853 139.02 1441.93)" font-size="100" xml:space="preserve" fill="#231f20">100</text>
<text transform="matrix(0.9476 0 0 1.0000 231.21 1783.00)" font-size="100" xml:space="preserve" fill="#231f20">0</text>
<text transform="matrix(0.9429 0 0 1.0000 281.23 1864.60)" font-size="100" xml:space="preserve" fill="#231f20">0</text>
<text transform="matrix(0.9409 0 0 0.9853 618.63 1864.63)" font-size="100" xml:space="preserve" fill="#231f20">100</text>
<text transform="matrix(0.9268 0 0 1.0000 1006.59 1864.60)" font-size="100" xml:space="preserve" fill="#231f20">200</text>
<text transform="matrix(0.9277 0 0 1.0000 1391.76 1864.60)" font-size="100" xml:space="preserve" fill="#231f20">300</text>
<text transform="matrix(0.9271 0 0 1.0000 1778.85 1864.60)" font-size="100" xml:space="preserve" fill="#231f20">400</text>
<text transform="matrix(0.9307 0 0 1.0000 2162.32 1864.60)" font-size="100" xml:space="preserve" fill="#231f20">500</text>
<g><text transform="matrix(0.9789 0 0 0.9229 344.36 247.08)" font-size="100" fill="#000">Bias:</text><text transform="matrix(0.9275 0 0 0.9229 581.19 247.08)" font-size="100" fill="#000">2.39</text><text transform="matrix(0.9677 0 0 0.9229 776.26 247.08)" font-size="100" fill="#000">km</text></g>
<g><text transform="matrix(0.9563 0 0 0.9197 348.74 332.36)" font-size="100" fill="#000">uRMSD:</text><text transform="matrix(0.9392 0 0 0.9197 720.94 332.36)" font-size="100" fill="#000">69.93</text><text transform="matrix(0.9677 0 0 0.9197 960.26 332.36)" font-size="100" fill="#000">km</text></g>
<g><text transform="matrix(0.9945 0 0 0.9507 344.32 418.50)" font-size="100" fill="#000">Correlation:</text><text transform="matrix(0.9523 0 0 0.9507 860.13 418.50)" font-size="100" fill="#000">73.18</text><text transform="matrix(0.8922 0 0 0.9507 1104.02 418.50)" font-size="100" fill="#000">%</text></g>
<g><text transform="matrix(1.0917 0 0 1.0911 817.11 1987.69)" font-size="100" fill="#231f20">ASCAT</text><text transform="matrix(1.0288 0 0 1.0911 1195.61 1987.69)" font-size="100" fill="#231f20">B</text><text transform="matrix(1.0457 0 0 1.0911 1299.06 1987.69)" font-size="100" fill="#231f20">R34</text><text transform="matrix(1.0919 0 0 1.0911 1510.03 1987.69)" font-size="100" fill="#231f20">(km)</text></g>
<g><text transform="matrix(0 -1.0464 1.0889 0 96.03 1336.79)" font-size="100" fill="#231f20">CYGNSS</text><text transform="matrix(0 -1.0951 1.0889 0 96.03 892.89)" font-size="100" fill="#231f20">R34</text><text transform="matrix(0 -1.0575 1.0889 0 96.03 678.93)" font-size="100" fill="#231f20">(km)</text></g>
<text transform="matrix(0.7448 0 0 0.7031 1772.57 1216.30)" font-size="100" xml:space="preserve" fill="#000">NE</text>
<text transform="matrix(0.7610 0 0 0.7328 1769.47 1299.83)" font-size="100" xml:space="preserve" fill="#000">SE</text>
<text transform="matrix(0.7147 0 0 0.7149 1769.80 1379.87)" font-size="100" xml:space="preserve" fill="#000">SW</text>
<text transform="matrix(0.7074 0 0 0.7179 1771.38 1462.46)" font-size="100" xml:space="preserve" fill="#000">NW</text>
<g><text transform="matrix(0.6780 0 0 0.6940 1771.30 1544.61)" font-size="100" fill="#000">1-1</text><text transform="matrix(0.7034 0 0 0.6940 1882.89 1544.61)" font-size="100" fill="#000">Line</text></g>
<text transform="matrix(0.7630 0 0 0.7015 254.77 2198.80)" font-size="100" xml:space="preserve" fill="#231f20">TD</text>
<g><text transform="matrix(0.7516 0 0 0.6926 597.79 2198.41)" font-size="100" fill="#231f20">Cat.</text><text transform="matrix(0.7930 0 0 0.6926 746.41 2198.41)" font-size="100" fill="#231f20">1</text></g>
<g><text transform="matrix(0.7516 0 0 0.7030 982.09 2198.39)" font-size="100" fill="#231f20">Cat.</text><text transform="matrix(0.7887 0 0 0.7030 1130.90 2198.39)" font-size="100" fill="#231f20">2</text></g>
<g><text transform="matrix(0.7516 0 0 0.7030 1369.39 2198.39)" font-size="100" fill="#231f20">Cat.</text><text transform="matrix(0.7879 0 0 0.7030 1519.45 2198.39)" font-size="100" fill="#231f20">3</text></g>
<g><text transform="matrix(0.7516 0 0 0.7030 1753.69 2198.39)" font-size="100" fill="#231f20">Cat.</text><text transform="matrix(0.7848 0 0 0.7030 1902.33 2198.39)" font-size="100" fill="#231f20">4</text></g>
<g><text transform="matrix(0.7516 0 0 0.7030 2140.79 2198.39)" font-size="100" fill="#231f20">Cat.</text><text transform="matrix(0.7887 0 0 0.7030 2288.12 2198.39)" font-size="100" fill="#231f20">5</text></g>
<g><text transform="matrix(0.7288 0 0 0.6870 851.90 2284.17)" font-size="100" fill="#231f20">Storm</text><text transform="matrix(0.6691 0 0 0.6870 1057.09 2284.17)" font-size="100" fill="#231f20">Level</text><text transform="matrix(0.6430 0 0 0.6870 1230.23 2284.17)" font-size="100" fill="#231f20">of</text><text transform="matrix(0.6993 0 0 0.6870 1304.80 2284.17)" font-size="100" fill="#231f20">Development</text></g></g>
</svg></body></html>
